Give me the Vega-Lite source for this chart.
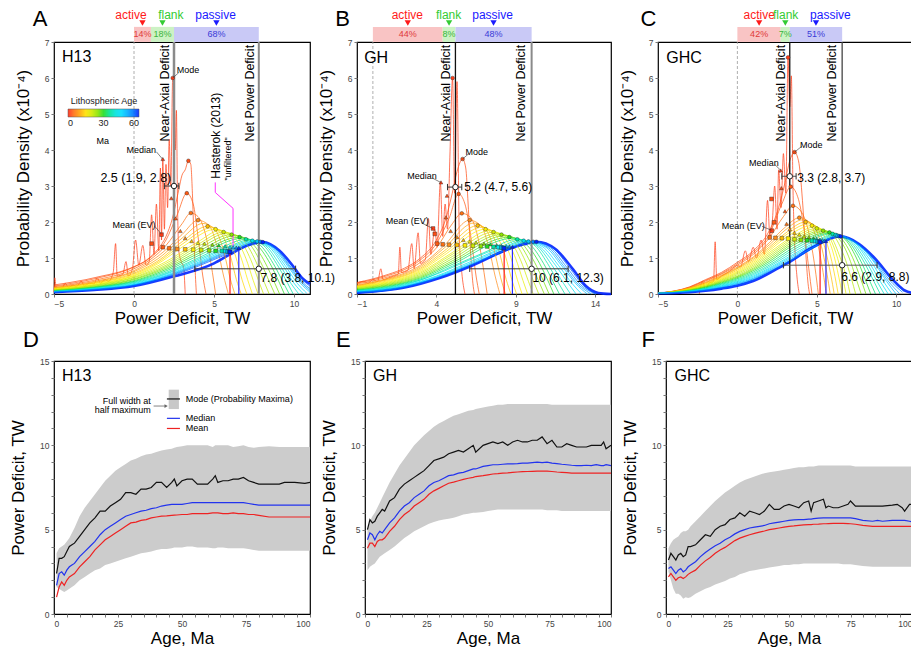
{
"$schema":"https://vega.github.io/schema/vega-lite/v6.json",
"padding":{"left":8,"top":7,"right":2,"bottom":2},
"spacing":0,
"config":{"font":"Liberation Sans","view":{"stroke":"#000","strokeWidth":1.2},
"axis":{"domain":false,"grid":false,"tickSize":3,"tickColor":"#777","labelFontSize":8.5,"labelColor":"#444","labelPadding":2,"labelOverlap":false,"titleFontSize":17,"titleFontWeight":"normal","titleColor":"#000"}},
"datasets":{
"ct":[{"p":"A","cat":"active","x":0,"x2":1.06,"m":0.53,"lx":-0.19,"pct":"14%","y0":7,"y1":7.42,"yp":7.21,"yl":7.76,"yt":7.53},{"p":"A","cat":"flank","x":1.06,"x2":2.5,"m":1.78,"lx":2.3,"pct":"18%","y0":7,"y1":7.42,"yp":7.21,"yl":7.76,"yt":7.53},{"p":"A","cat":"passive","x":2.5,"x2":7.8,"m":5.15,"lx":5.1,"pct":"68%","y0":7,"y1":7.42,"yp":7.21,"yl":7.76,"yt":7.53},
{"p":"B","cat":"active","x":0,"x2":4.4,"m":2.2,"lx":2.17,"pct":"44%","y0":7,"y1":7.42,"yp":7.21,"yl":7.76,"yt":7.53},{"p":"B","cat":"flank","x":4.4,"x2":5.2,"m":4.8,"lx":4.77,"pct":"8%","y0":7,"y1":7.42,"yp":7.21,"yl":7.76,"yt":7.53},{"p":"B","cat":"passive","x":5.2,"x2":10,"m":7.6,"lx":7.54,"pct":"48%","y0":7,"y1":7.42,"yp":7.21,"yl":7.76,"yt":7.53},
{"p":"C","cat":"active","x":0,"x2":2.73,"m":1.37,"lx":1.38,"pct":"42%","y0":7,"y1":7.42,"yp":7.21,"yl":7.76,"yt":7.53},{"p":"C","cat":"flank","x":2.73,"x2":3.3,"m":3.02,"lx":3.04,"pct":"7%","y0":7,"y1":7.42,"yp":7.21,"yl":7.76,"yt":7.53},{"p":"C","cat":"passive","x":3.3,"x2":6.6,"m":4.95,"lx":5.86,"pct":"51%","y0":7,"y1":7.42,"yp":7.21,"yl":7.76,"yt":7.53}],
"vl":[{"p":"A","k":"zero","x":0,"y0":0,"y":7},{"p":"A","k":"near","x":2.5,"y0":0,"y":7},{"p":"A","k":"net","x":7.8,"y0":0,"y":7},{"p":"A","k":"mean","x":6.0,"y0":0,"y":1.2},{"p":"A","k":"median","x":6.55,"y0":0,"y":1.28},
{"p":"B","k":"zero","x":0,"y0":0,"y":7},{"p":"B","k":"near","x":5.2,"y0":0,"y":7},{"p":"B","k":"net","x":10,"y0":0,"y":7},{"p":"B","k":"mean","x":8.27,"y0":0,"y":1.27},{"p":"B","k":"median","x":8.79,"y0":0,"y":1.31},
{"p":"C","k":"zero","x":0,"y0":0,"y":7},{"p":"C","k":"near","x":3.3,"y0":0,"y":7},{"p":"C","k":"net","x":6.6,"y0":0,"y":7},{"p":"C","k":"mean","x":5.21,"y0":0,"y":1.44},{"p":"C","k":"median","x":5.58,"y0":0,"y":1.47}],
"eb":[{"p":"A","x":2.5,"y":3.0,"lo":1.9,"hi":2.8},{"p":"A","x":7.8,"y":0.7,"lo":3.8,"hi":10.1},{"p":"B","x":5.2,"y":2.97,"lo":4.7,"hi":5.6},{"p":"B","x":10,"y":0.7,"lo":6.1,"hi":12.3},{"p":"C","x":3.3,"y":3.27,"lo":2.8,"hi":3.7},{"p":"C","x":6.6,"y":0.8,"lo":2.9,"hi":8.8}],
"ld":[{"p":"A","x":2.42,"y":6.0,"x2":2.8,"y2":6.15},{"p":"A","x":1.4,"y":3.95,"x2":1.78,"y2":3.75},{"p":"A","x":1.3,"y":1.88,"x2":1.72,"y2":1.66},
{"p":"B","x":5.65,"y":3.75,"x2":6.05,"y2":3.9},{"p":"B","x":3.75,"y":3.22,"x2":4.27,"y2":3.1},{"p":"B","x":3.05,"y":1.98,"x2":3.77,"y2":1.82},
{"p":"C","x":3.6,"y":3.94,"x2":4.05,"y2":4.1},{"p":"C","x":2.35,"y":3.6,"x2":2.72,"y2":3.44},{"p":"C","x":1.55,"y":1.88,"x2":2.15,"y2":1.77}],
"hs":[{"o":1,"x":5.08,"y":3.1},{"o":2,"x":5.08,"y":2.82},{"o":3,"x":6.19,"y":2.38},{"o":4,"x":6.19,"y":1.25}],
"lg":[{"k":"band","x":44.8,"x2":48.8,"y":12.15,"y2":13.3},{"k":"mode","x":44.1,"x2":49.2,"y":12.75},{"k":"median","x":44.1,"x2":49.2,"y":11.6},{"k":"mean","x":44.1,"x2":49.2,"y":11.0},{"k":"arrow","x":38.9,"x2":43.6,"y":12.33},{"k":"head","x":43.8,"y":12.33}],
"tx":[{"p":"A","k":"letter","x":-5.875,"y":7.63,"t":"A"},{"p":"A","k":"name","x":-4.5,"y":6.58,"t":"H13"},{"p":"A","k":"rot","x":1.92,"y":6.92,"t":"Near-Axial Deficit"},{"p":"A","k":"rot","x":7.23,"y":6.92,"t":"Net Power Deficit"},{"p":"A","k":"rotL","x":5.15,"y":3.2,"t":"Hasterok (2013)"},{"p":"A","k":"rotS","x":5.88,"y":3.15,"t":"\"unfiltered\""},{"p":"A","k":"valR","x":2.33,"y":3.22,"t":"2.5 (1.9, 2.8)"},{"p":"A","k":"valL","x":7.9,"y":0.45,"t":"7.8 (3.8, 10.1)"},{"p":"A","k":"lab","x":3.38,"y":6.23,"t":"Mode"},{"p":"A","k":"lab","x":0.46,"y":4.0,"t":"Median"},{"p":"A","k":"lab","x":0.0,"y":1.92,"t":"Mean (EV)"},{"p":"A","k":"leg","x":-1.95,"y":4.25,"t":"Ma"},
{"p":"B","k":"letter","x":-1.9,"y":7.63,"t":"B"},{"p":"B","k":"name","x":-0.55,"y":6.55,"t":"GH"},{"p":"B","k":"rot","x":4.6,"y":6.92,"t":"Near-Axial Deficit"},{"p":"B","k":"rot","x":9.35,"y":6.92,"t":"Net Power Deficit"},{"p":"B","k":"valL","x":5.75,"y":2.97,"t":"5.2 (4.7, 5.6)"},{"p":"B","k":"valL","x":10.05,"y":0.44,"t":"10 (6.1, 12.3)"},{"p":"B","k":"lab","x":6.54,"y":3.94,"t":"Mode"},{"p":"B","k":"lab","x":3.1,"y":3.29,"t":"Median"},{"p":"B","k":"lab","x":2.17,"y":2.04,"t":"Mean (EV)"},
{"p":"C","k":"letter","x":-5.6,"y":7.63,"t":"C"},{"p":"C","k":"name","x":-4.48,"y":6.55,"t":"GHC"},{"p":"C","k":"rot","x":2.77,"y":6.92,"t":"Near-Axial Deficit"},{"p":"C","k":"rot","x":5.94,"y":6.92,"t":"Net Power Deficit"},{"p":"C","k":"valL","x":3.77,"y":3.22,"t":"3.3 (2.8, 3.7)"},{"p":"C","k":"valL","x":6.55,"y":0.48,"t":"6.6 (2.9, 8.8)"},{"p":"C","k":"lab","x":4.65,"y":4.15,"t":"Mode"},{"p":"C","k":"lab","x":1.67,"y":3.64,"t":"Median"},{"p":"C","k":"lab","x":0.375,"y":1.9,"t":"Mean (EV)"}],
"mk":[
{"p":"A","a":1,"k":"mode","x":2.42,"y":6.0},{"p":"A","a":2,"k":"mode","x":3.4,"y":3.7},{"p":"A","a":3,"k":"mode","x":3.3,"y":2.8},{"p":"A","a":5,"k":"mode","x":3.55,"y":2.25},{"p":"A","a":8,"k":"mode","x":4.0,"y":2.05},{"p":"A","a":12,"k":"mode","x":4.6,"y":1.88},{"p":"A","a":16,"k":"mode","x":5.1,"y":1.8},{"p":"A","a":20,"k":"mode","x":5.6,"y":1.72},{"p":"A","a":25,"k":"mode","x":6.1,"y":1.65},{"p":"A","a":30,"k":"mode","x":6.6,"y":1.58},{"p":"A","a":36,"k":"mode","x":7.0,"y":1.52},{"p":"A","a":42,"k":"mode","x":7.4,"y":1.48},{"p":"A","a":48,"k":"mode","x":7.7,"y":1.46},{"p":"A","a":54,"k":"mode","x":7.9,"y":1.45},{"p":"A","a":60,"k":"mode","x":8.05,"y":1.44},
{"p":"A","a":1,"k":"median","x":1.8,"y":3.75},{"p":"A","a":2,"k":"median","x":2.33,"y":2.66},{"p":"A","a":3,"k":"median","x":2.6,"y":2.1},{"p":"A","a":5,"k":"median","x":2.9,"y":1.75},{"p":"A","a":8,"k":"median","x":3.2,"y":1.55},{"p":"A","a":12,"k":"median","x":3.6,"y":1.47},{"p":"A","a":16,"k":"median","x":4.0,"y":1.42},{"p":"A","a":20,"k":"median","x":4.4,"y":1.4},{"p":"A","a":25,"k":"median","x":4.9,"y":1.37},{"p":"A","a":30,"k":"median","x":5.3,"y":1.35},{"p":"A","a":36,"k":"median","x":5.7,"y":1.33},{"p":"A","a":42,"k":"median","x":6.0,"y":1.31},{"p":"A","a":48,"k":"median","x":6.2,"y":1.3},{"p":"A","a":54,"k":"median","x":6.4,"y":1.29},{"p":"A","a":60,"k":"median","x":6.55,"y":1.28},
{"p":"A","a":1,"k":"mean","x":1.72,"y":1.65},{"p":"A","a":2,"k":"mean","x":1.1,"y":1.4},{"p":"A","a":3,"k":"mean","x":1.8,"y":1.3},{"p":"A","a":5,"k":"mean","x":2.2,"y":1.27},{"p":"A","a":8,"k":"mean","x":2.7,"y":1.25},{"p":"A","a":12,"k":"mean","x":3.2,"y":1.24},{"p":"A","a":16,"k":"mean","x":3.7,"y":1.23},{"p":"A","a":20,"k":"mean","x":4.2,"y":1.22},{"p":"A","a":25,"k":"mean","x":4.7,"y":1.21},{"p":"A","a":30,"k":"mean","x":5.1,"y":1.2},{"p":"A","a":36,"k":"mean","x":5.5,"y":1.2},{"p":"A","a":42,"k":"mean","x":5.7,"y":1.19},{"p":"A","a":48,"k":"mean","x":5.85,"y":1.18},{"p":"A","a":54,"k":"mean","x":5.95,"y":1.18},{"p":"A","a":60,"k":"mean","x":6.0,"y":1.17},
{"p":"B","a":1,"k":"mode","x":5.02,"y":6.0},{"p":"B","a":2,"k":"mode","x":5.65,"y":3.75},{"p":"B","a":3,"k":"mode","x":5.4,"y":2.78},{"p":"B","a":5,"k":"mode","x":5.6,"y":2.24},{"p":"B","a":8,"k":"mode","x":6.1,"y":2.05},{"p":"B","a":12,"k":"mode","x":6.6,"y":1.9},{"p":"B","a":16,"k":"mode","x":7.1,"y":1.8},{"p":"B","a":20,"k":"mode","x":7.6,"y":1.72},{"p":"B","a":25,"k":"mode","x":8.1,"y":1.65},{"p":"B","a":30,"k":"mode","x":8.6,"y":1.58},{"p":"B","a":36,"k":"mode","x":9.1,"y":1.52},{"p":"B","a":42,"k":"mode","x":9.5,"y":1.48},{"p":"B","a":48,"k":"mode","x":9.8,"y":1.46},{"p":"B","a":54,"k":"mode","x":10.1,"y":1.45},{"p":"B","a":60,"k":"mode","x":10.3,"y":1.45},
{"p":"B","a":1,"k":"median","x":4.29,"y":3.1},{"p":"B","a":2,"k":"median","x":4.67,"y":2.73},{"p":"B","a":3,"k":"median","x":4.6,"y":2.13},{"p":"B","a":5,"k":"median","x":4.9,"y":1.75},{"p":"B","a":8,"k":"median","x":5.3,"y":1.58},{"p":"B","a":12,"k":"median","x":5.7,"y":1.5},{"p":"B","a":16,"k":"median","x":6.1,"y":1.46},{"p":"B","a":20,"k":"median","x":6.5,"y":1.43},{"p":"B","a":25,"k":"median","x":7.0,"y":1.4},{"p":"B","a":30,"k":"median","x":7.4,"y":1.38},{"p":"B","a":36,"k":"median","x":7.8,"y":1.36},{"p":"B","a":42,"k":"median","x":8.1,"y":1.34},{"p":"B","a":48,"k":"median","x":8.4,"y":1.33},{"p":"B","a":54,"k":"median","x":8.6,"y":1.32},{"p":"B","a":60,"k":"median","x":8.79,"y":1.31},
{"p":"B","a":1,"k":"mean","x":3.79,"y":1.82},{"p":"B","a":2,"k":"mean","x":3.9,"y":1.67},{"p":"B","a":3,"k":"mean","x":4.05,"y":1.4},{"p":"B","a":5,"k":"mean","x":4.4,"y":1.38},{"p":"B","a":8,"k":"mean","x":4.8,"y":1.37},{"p":"B","a":12,"k":"mean","x":5.3,"y":1.36},{"p":"B","a":16,"k":"mean","x":5.8,"y":1.35},{"p":"B","a":20,"k":"mean","x":6.3,"y":1.34},{"p":"B","a":25,"k":"mean","x":6.8,"y":1.33},{"p":"B","a":30,"k":"mean","x":7.2,"y":1.32},{"p":"B","a":36,"k":"mean","x":7.6,"y":1.31},{"p":"B","a":42,"k":"mean","x":7.9,"y":1.3},{"p":"B","a":48,"k":"mean","x":8.1,"y":1.29},{"p":"B","a":54,"k":"mean","x":8.2,"y":1.28},{"p":"B","a":60,"k":"mean","x":8.27,"y":1.27},
{"p":"C","a":1,"k":"mode","x":3.19,"y":6.57},{"p":"C","a":2,"k":"mode","x":3.6,"y":3.94},{"p":"C","a":3,"k":"mode","x":3.36,"y":2.98},{"p":"C","a":5,"k":"mode","x":3.5,"y":2.45},{"p":"C","a":8,"k":"mode","x":3.9,"y":2.12},{"p":"C","a":12,"k":"mode","x":4.3,"y":2.0},{"p":"C","a":16,"k":"mode","x":4.7,"y":1.9},{"p":"C","a":20,"k":"mode","x":5.0,"y":1.82},{"p":"C","a":25,"k":"mode","x":5.4,"y":1.76},{"p":"C","a":30,"k":"mode","x":5.8,"y":1.71},{"p":"C","a":36,"k":"mode","x":6.0,"y":1.67},{"p":"C","a":42,"k":"mode","x":6.2,"y":1.64},{"p":"C","a":48,"k":"mode","x":6.3,"y":1.62},{"p":"C","a":54,"k":"mode","x":6.4,"y":1.61},{"p":"C","a":60,"k":"mode","x":6.5,"y":1.6},
{"p":"C","a":1,"k":"median","x":2.73,"y":3.43},{"p":"C","a":2,"k":"median","x":2.77,"y":2.94},{"p":"C","a":3,"k":"median","x":3.0,"y":2.3},{"p":"C","a":5,"k":"median","x":3.1,"y":1.95},{"p":"C","a":8,"k":"median","x":3.3,"y":1.8},{"p":"C","a":12,"k":"median","x":3.6,"y":1.7},{"p":"C","a":16,"k":"median","x":3.9,"y":1.65},{"p":"C","a":20,"k":"median","x":4.2,"y":1.6},{"p":"C","a":25,"k":"median","x":4.5,"y":1.57},{"p":"C","a":30,"k":"median","x":4.8,"y":1.55},{"p":"C","a":36,"k":"median","x":5.0,"y":1.53},{"p":"C","a":42,"k":"median","x":5.2,"y":1.51},{"p":"C","a":48,"k":"median","x":5.35,"y":1.5},{"p":"C","a":54,"k":"median","x":5.47,"y":1.48},{"p":"C","a":60,"k":"median","x":5.58,"y":1.47},
{"p":"C","a":1,"k":"mean","x":2.17,"y":1.76},{"p":"C","a":2,"k":"mean","x":2.15,"y":2.64},{"p":"C","a":3,"k":"mean","x":2.31,"y":1.99},{"p":"C","a":5,"k":"mean","x":2.04,"y":1.57},{"p":"C","a":8,"k":"mean","x":2.4,"y":1.56},{"p":"C","a":12,"k":"mean","x":2.8,"y":1.55},{"p":"C","a":16,"k":"mean","x":3.2,"y":1.54},{"p":"C","a":20,"k":"mean","x":3.6,"y":1.52},{"p":"C","a":25,"k":"mean","x":4.0,"y":1.5},{"p":"C","a":30,"k":"mean","x":4.4,"y":1.49},{"p":"C","a":36,"k":"mean","x":4.7,"y":1.48},{"p":"C","a":42,"k":"mean","x":4.9,"y":1.47},{"p":"C","a":48,"k":"mean","x":5.05,"y":1.46},{"p":"C","a":54,"k":"mean","x":5.15,"y":1.45},{"p":"C","a":60,"k":"mean","x":5.21,"y":1.44}],
"cv":[
{"p":"A","a":1,"x":-5,"y":0.05},{"p":"A","a":1,"x":-4.95,"y":0.45},{"p":"A","a":1,"x":-4.85,"y":0.12},{"p":"A","a":1,"x":-4.5,"y":0.15},{"p":"A","a":1,"x":-4.3,"y":0.3},{"p":"A","a":1,"x":-4.1,"y":0.18},{"p":"A","a":1,"x":-3.8,"y":0.25},{"p":"A","a":1,"x":-3.6,"y":0.2},{"p":"A","a":1,"x":-3.3,"y":0.35},{"p":"A","a":1,"x":-3.1,"y":0.22},{"p":"A","a":1,"x":-2.8,"y":0.3},{"p":"A","a":1,"x":-2.5,"y":0.28},{"p":"A","a":1,"x":-2.3,"y":0.45},{"p":"A","a":1,"x":-2.1,"y":0.3},{"p":"A","a":1,"x":-1.8,"y":0.4},{"p":"A","a":1,"x":-1.6,"y":0.35},{"p":"A","a":1,"x":-1.3,"y":0.6},{"p":"A","a":1,"x":-1.15,"y":1.4},{"p":"A","a":1,"x":-1.05,"y":0.5},{"p":"A","a":1,"x":-0.7,"y":0.55},{"p":"A","a":1,"x":-0.5,"y":0.9},{"p":"A","a":1,"x":-0.35,"y":0.5},{"p":"A","a":1,"x":-0.1,"y":0.7},{"p":"A","a":1,"x":0.1,"y":1.5},{"p":"A","a":1,"x":0.3,"y":0.8},{"p":"A","a":1,"x":0.55,"y":1.35},{"p":"A","a":1,"x":0.75,"y":0.8},{"p":"A","a":1,"x":0.95,"y":0.9},{"p":"A","a":1,"x":1.1,"y":2.2},{"p":"A","a":1,"x":1.25,"y":1.1},{"p":"A","a":1,"x":1.4,"y":2.5},{"p":"A","a":1,"x":1.55,"y":1.2},{"p":"A","a":1,"x":1.65,"y":3.5},{"p":"A","a":1,"x":1.72,"y":1.5},{"p":"A","a":1,"x":1.8,"y":3.75},{"p":"A","a":1,"x":1.9,"y":1.8},{"p":"A","a":1,"x":2,"y":3.6},{"p":"A","a":1,"x":2.1,"y":2.4},{"p":"A","a":1,"x":2.2,"y":4.3},{"p":"A","a":1,"x":2.3,"y":3},{"p":"A","a":1,"x":2.42,"y":6},{"p":"A","a":1,"x":2.5,"y":5.9},{"p":"A","a":1,"x":2.58,"y":4},{"p":"A","a":1,"x":2.65,"y":5.1},{"p":"A","a":1,"x":2.72,"y":2.5},{"p":"A","a":1,"x":2.8,"y":1.2},{"p":"A","a":1,"x":2.95,"y":0.9},{"p":"A","a":1,"x":3.1,"y":0.75},{"p":"A","a":1,"x":3.2,"y":0},
{"p":"A","a":2,"x":-5,"y":0.25},{"p":"A","a":2,"x":-4,"y":0.32},{"p":"A","a":2,"x":-3,"y":0.4},{"p":"A","a":2,"x":-2,"y":0.5},{"p":"A","a":2,"x":-1,"y":0.6},{"p":"A","a":2,"x":0,"y":0.76},{"p":"A","a":2,"x":0.8,"y":0.95},{"p":"A","a":2,"x":1.5,"y":1.25},{"p":"A","a":2,"x":2,"y":1.6},{"p":"A","a":2,"x":2.4,"y":2.1},{"p":"A","a":2,"x":2.8,"y":2.9},{"p":"A","a":2,"x":3,"y":3.3},{"p":"A","a":2,"x":3.2,"y":3.45},{"p":"A","a":2,"x":3.4,"y":3.7},{"p":"A","a":2,"x":3.55,"y":3.6},{"p":"A","a":2,"x":3.65,"y":2.8},{"p":"A","a":2,"x":3.75,"y":1.5},{"p":"A","a":2,"x":3.85,"y":0.4},{"p":"A","a":2,"x":3.9,"y":0},
{"p":"A","a":3,"x":-5,"y":0.22},{"p":"A","a":3,"x":-2.5,"y":0.42},{"p":"A","a":3,"x":0,"y":0.75},{"p":"A","a":3,"x":1,"y":1.0},{"p":"A","a":3,"x":2,"y":1.5},{"p":"A","a":3,"x":2.7,"y":2.2},{"p":"A","a":3,"x":3.3,"y":2.8},{"p":"A","a":3,"x":3.7,"y":2.5},{"p":"A","a":3,"x":4.0,"y":1.6},{"p":"A","a":3,"x":4.3,"y":0.5},{"p":"A","a":3,"x":4.5,"y":0},
{"p":"A","a":5,"x":-5,"y":0.2},{"p":"A","a":5,"x":-2.5,"y":0.38},{"p":"A","a":5,"x":0,"y":0.7},{"p":"A","a":5,"x":1,"y":0.95},{"p":"A","a":5,"x":2,"y":1.35},{"p":"A","a":5,"x":3,"y":1.95},{"p":"A","a":5,"x":3.55,"y":2.25},{"p":"A","a":5,"x":4.0,"y":2.15},{"p":"A","a":5,"x":4.5,"y":1.6},{"p":"A","a":5,"x":4.9,"y":0.6},{"p":"A","a":5,"x":5.1,"y":0},
{"p":"A","a":8,"x":-5,"y":0.18},{"p":"A","a":8,"x":-2.5,"y":0.35},{"p":"A","a":8,"x":0,"y":0.65},{"p":"A","a":8,"x":1.5,"y":1.05},{"p":"A","a":8,"x":3,"y":1.65},{"p":"A","a":8,"x":4,"y":2.05},{"p":"A","a":8,"x":4.7,"y":1.9},{"p":"A","a":8,"x":5.2,"y":1.3},{"p":"A","a":8,"x":5.6,"y":0.5},{"p":"A","a":8,"x":5.9,"y":0},
{"p":"A","a":12,"x":-5,"y":0.16},{"p":"A","a":12,"x":-2.5,"y":0.31},{"p":"A","a":12,"x":0,"y":0.58},{"p":"A","a":12,"x":1.5,"y":0.92},{"p":"A","a":12,"x":3,"y":1.45},{"p":"A","a":12,"x":4.6,"y":1.88},{"p":"A","a":12,"x":5.4,"y":1.7},{"p":"A","a":12,"x":6,"y":1.1},{"p":"A","a":12,"x":6.4,"y":0.4},{"p":"A","a":12,"x":6.7,"y":0},
{"p":"A","a":16,"x":-5,"y":0.14},{"p":"A","a":16,"x":-2.5,"y":0.28},{"p":"A","a":16,"x":0,"y":0.52},{"p":"A","a":16,"x":1.5,"y":0.84},{"p":"A","a":16,"x":3,"y":1.3},{"p":"A","a":16,"x":5.1,"y":1.8},{"p":"A","a":16,"x":6,"y":1.6},{"p":"A","a":16,"x":6.7,"y":1.0},{"p":"A","a":16,"x":7.1,"y":0.4},{"p":"A","a":16,"x":7.4,"y":0},
{"p":"A","a":20,"x":-5,"y":0.12},{"p":"A","a":20,"x":-2.5,"y":0.25},{"p":"A","a":20,"x":0,"y":0.47},{"p":"A","a":20,"x":2,"y":0.85},{"p":"A","a":20,"x":4,"y":1.38},{"p":"A","a":20,"x":5.6,"y":1.72},{"p":"A","a":20,"x":6.6,"y":1.5},{"p":"A","a":20,"x":7.3,"y":0.95},{"p":"A","a":20,"x":7.8,"y":0.35},{"p":"A","a":20,"x":8.1,"y":0},
{"p":"A","a":25,"x":-5,"y":0.11},{"p":"A","a":25,"x":-2.5,"y":0.22},{"p":"A","a":25,"x":0,"y":0.42},{"p":"A","a":25,"x":2,"y":0.76},{"p":"A","a":25,"x":4,"y":1.25},{"p":"A","a":25,"x":6.1,"y":1.65},{"p":"A","a":25,"x":7.1,"y":1.45},{"p":"A","a":25,"x":7.9,"y":0.9},{"p":"A","a":25,"x":8.5,"y":0.3},{"p":"A","a":25,"x":8.8,"y":0},
{"p":"A","a":30,"x":-5,"y":0.09},{"p":"A","a":30,"x":-2.5,"y":0.19},{"p":"A","a":30,"x":0,"y":0.37},{"p":"A","a":30,"x":2,"y":0.68},{"p":"A","a":30,"x":4,"y":1.12},{"p":"A","a":30,"x":6.6,"y":1.58},{"p":"A","a":30,"x":7.6,"y":1.4},{"p":"A","a":30,"x":8.5,"y":0.85},{"p":"A","a":30,"x":9.1,"y":0.3},{"p":"A","a":30,"x":9.4,"y":0},
{"p":"A","a":36,"x":-5,"y":0.08},{"p":"A","a":36,"x":-2.5,"y":0.17},{"p":"A","a":36,"x":0,"y":0.33},{"p":"A","a":36,"x":2,"y":0.6},{"p":"A","a":36,"x":4,"y":1.0},{"p":"A","a":36,"x":5.5,"y":1.3},{"p":"A","a":36,"x":7,"y":1.52},{"p":"A","a":36,"x":8,"y":1.38},{"p":"A","a":36,"x":8.9,"y":0.85},{"p":"A","a":36,"x":9.6,"y":0.3},{"p":"A","a":36,"x":9.95,"y":0},
{"p":"A","a":42,"x":-5,"y":0.07},{"p":"A","a":42,"x":-2.5,"y":0.15},{"p":"A","a":42,"x":0,"y":0.29},{"p":"A","a":42,"x":2,"y":0.55},{"p":"A","a":42,"x":4,"y":0.92},{"p":"A","a":42,"x":6,"y":1.3},{"p":"A","a":42,"x":7.4,"y":1.48},{"p":"A","a":42,"x":8.4,"y":1.32},{"p":"A","a":42,"x":9.3,"y":0.8},{"p":"A","a":42,"x":10,"y":0.3},{"p":"A","a":42,"x":10.6,"y":0},
{"p":"A","a":48,"x":-5,"y":0.06},{"p":"A","a":48,"x":-2.5,"y":0.13},{"p":"A","a":48,"x":0,"y":0.26},{"p":"A","a":48,"x":2,"y":0.5},{"p":"A","a":48,"x":4,"y":0.85},{"p":"A","a":48,"x":6,"y":1.22},{"p":"A","a":48,"x":7.7,"y":1.46},{"p":"A","a":48,"x":8.7,"y":1.28},{"p":"A","a":48,"x":9.6,"y":0.78},{"p":"A","a":48,"x":10.4,"y":0.3},{"p":"A","a":48,"x":11,"y":0.05},
{"p":"A","a":54,"x":-5,"y":0.055},{"p":"A","a":54,"x":-2.5,"y":0.12},{"p":"A","a":54,"x":0,"y":0.24},{"p":"A","a":54,"x":2,"y":0.47},{"p":"A","a":54,"x":4,"y":0.8},{"p":"A","a":54,"x":6,"y":1.17},{"p":"A","a":54,"x":7.9,"y":1.45},{"p":"A","a":54,"x":8.9,"y":1.25},{"p":"A","a":54,"x":9.8,"y":0.75},{"p":"A","a":54,"x":10.6,"y":0.3},{"p":"A","a":54,"x":11,"y":0.15},
{"p":"A","a":60,"x":-5,"y":0.05},{"p":"A","a":60,"x":-2.5,"y":0.11},{"p":"A","a":60,"x":0,"y":0.22},{"p":"A","a":60,"x":2.5,"y":0.49},{"p":"A","a":60,"x":5,"y":0.85},{"p":"A","a":60,"x":6,"y":1.1},{"p":"A","a":60,"x":7,"y":1.33},{"p":"A","a":60,"x":8.05,"y":1.44},{"p":"A","a":60,"x":9.1,"y":1.2},{"p":"A","a":60,"x":9.9,"y":0.8},{"p":"A","a":60,"x":10.5,"y":0.45},{"p":"A","a":60,"x":11,"y":0.28},
{"p":"A","a":10,"x":-5,"y":0.17},{"p":"A","a":10,"x":-2.5,"y":0.33},{"p":"A","a":10,"x":0,"y":0.62},{"p":"A","a":10,"x":1.5,"y":0.98},{"p":"A","a":10,"x":3,"y":1.55},{"p":"A","a":10,"x":4.3,"y":1.96},{"p":"A","a":10,"x":5.05,"y":1.8},{"p":"A","a":10,"x":5.6,"y":1.2},{"p":"A","a":10,"x":6.0,"y":0.45},{"p":"A","a":10,"x":6.3,"y":0},
{"p":"A","a":14,"x":-5,"y":0.15},{"p":"A","a":14,"x":-2.5,"y":0.3},{"p":"A","a":14,"x":0,"y":0.55},{"p":"A","a":14,"x":1.5,"y":0.88},{"p":"A","a":14,"x":3,"y":1.38},{"p":"A","a":14,"x":4.85,"y":1.84},{"p":"A","a":14,"x":5.7,"y":1.65},{"p":"A","a":14,"x":6.35,"y":1.05},{"p":"A","a":14,"x":6.75,"y":0.4},{"p":"A","a":14,"x":7.05,"y":0},
{"p":"A","a":18,"x":-5,"y":0.13},{"p":"A","a":18,"x":-2.5,"y":0.26},{"p":"A","a":18,"x":0,"y":0.5},{"p":"A","a":18,"x":2,"y":0.9},{"p":"A","a":18,"x":4,"y":1.45},{"p":"A","a":18,"x":5.35,"y":1.76},{"p":"A","a":18,"x":6.3,"y":1.55},{"p":"A","a":18,"x":7.0,"y":0.98},{"p":"A","a":18,"x":7.45,"y":0.38},{"p":"A","a":18,"x":7.75,"y":0},
{"p":"A","a":22,"x":-5,"y":0.115},{"p":"A","a":22,"x":-2.5,"y":0.235},{"p":"A","a":22,"x":0,"y":0.45},{"p":"A","a":22,"x":2,"y":0.8},{"p":"A","a":22,"x":4,"y":1.32},{"p":"A","a":22,"x":5.85,"y":1.69},{"p":"A","a":22,"x":6.85,"y":1.48},{"p":"A","a":22,"x":7.6,"y":0.92},{"p":"A","a":22,"x":8.15,"y":0.32},{"p":"A","a":22,"x":8.45,"y":0},
{"p":"A","a":27,"x":-5,"y":0.1},{"p":"A","a":27,"x":-2.5,"y":0.2},{"p":"A","a":27,"x":0,"y":0.4},{"p":"A","a":27,"x":2,"y":0.72},{"p":"A","a":27,"x":4,"y":1.18},{"p":"A","a":27,"x":6.35,"y":1.62},{"p":"A","a":27,"x":7.35,"y":1.42},{"p":"A","a":27,"x":8.2,"y":0.87},{"p":"A","a":27,"x":8.8,"y":0.3},{"p":"A","a":27,"x":9.1,"y":0},
{"p":"A","a":33,"x":-5,"y":0.085},{"p":"A","a":33,"x":-2.5,"y":0.18},{"p":"A","a":33,"x":0,"y":0.35},{"p":"A","a":33,"x":2,"y":0.64},{"p":"A","a":33,"x":4,"y":1.06},{"p":"A","a":33,"x":6.8,"y":1.55},{"p":"A","a":33,"x":7.8,"y":1.39},{"p":"A","a":33,"x":8.7,"y":0.85},{"p":"A","a":33,"x":9.35,"y":0.3},{"p":"A","a":33,"x":9.7,"y":0},
{"p":"A","a":39,"x":-5,"y":0.075},{"p":"A","a":39,"x":-2.5,"y":0.16},{"p":"A","a":39,"x":0,"y":0.31},{"p":"A","a":39,"x":2,"y":0.57},{"p":"A","a":39,"x":4,"y":0.96},{"p":"A","a":39,"x":6,"y":1.33},{"p":"A","a":39,"x":7.2,"y":1.5},{"p":"A","a":39,"x":8.2,"y":1.35},{"p":"A","a":39,"x":9.1,"y":0.82},{"p":"A","a":39,"x":9.8,"y":0.3},{"p":"A","a":39,"x":10.3,"y":0},
{"p":"A","a":45,"x":-5,"y":0.065},{"p":"A","a":45,"x":-2.5,"y":0.14},{"p":"A","a":45,"x":0,"y":0.27},{"p":"A","a":45,"x":2,"y":0.52},{"p":"A","a":45,"x":4,"y":0.88},{"p":"A","a":45,"x":6,"y":1.26},{"p":"A","a":45,"x":7.55,"y":1.47},{"p":"A","a":45,"x":8.55,"y":1.3},{"p":"A","a":45,"x":9.45,"y":0.79},{"p":"A","a":45,"x":10.2,"y":0.3},{"p":"A","a":45,"x":10.8,"y":0.02},
{"p":"A","a":51,"x":-5,"y":0.058},{"p":"A","a":51,"x":-2.5,"y":0.125},{"p":"A","a":51,"x":0,"y":0.25},{"p":"A","a":51,"x":2,"y":0.485},{"p":"A","a":51,"x":4,"y":0.82},{"p":"A","a":51,"x":6,"y":1.2},{"p":"A","a":51,"x":7.8,"y":1.455},{"p":"A","a":51,"x":8.8,"y":1.27},{"p":"A","a":51,"x":9.7,"y":0.77},{"p":"A","a":51,"x":10.5,"y":0.3},{"p":"A","a":51,"x":11,"y":0.1},
{"p":"A","a":57,"x":-5,"y":0.052},{"p":"A","a":57,"x":-2.5,"y":0.115},{"p":"A","a":57,"x":0,"y":0.23},{"p":"A","a":57,"x":2,"y":0.45},{"p":"A","a":57,"x":4,"y":0.77},{"p":"A","a":57,"x":6,"y":1.14},{"p":"A","a":57,"x":7.98,"y":1.445},{"p":"A","a":57,"x":9.0,"y":1.23},{"p":"A","a":57,"x":9.85,"y":0.78},{"p":"A","a":57,"x":10.55,"y":0.38},{"p":"A","a":57,"x":11,"y":0.22},
{"p":"B","a":1,"x":-1,"y":0.3},{"p":"B","a":1,"x":-0.6,"y":0.35},{"p":"B","a":1,"x":-0.3,"y":0.3},{"p":"B","a":1,"x":0,"y":0.4},{"p":"B","a":1,"x":0.3,"y":0.35},{"p":"B","a":1,"x":0.5,"y":0.7},{"p":"B","a":1,"x":0.65,"y":0.4},{"p":"B","a":1,"x":1,"y":0.45},{"p":"B","a":1,"x":1.3,"y":0.5},{"p":"B","a":1,"x":1.6,"y":0.55},{"p":"B","a":1,"x":1.7,"y":1.3},{"p":"B","a":1,"x":1.8,"y":0.6},{"p":"B","a":1,"x":2.2,"y":0.65},{"p":"B","a":1,"x":2.45,"y":1.4},{"p":"B","a":1,"x":2.6,"y":0.7},{"p":"B","a":1,"x":2.85,"y":1.7},{"p":"B","a":1,"x":3,"y":0.85},{"p":"B","a":1,"x":3.3,"y":0.95},{"p":"B","a":1,"x":3.5,"y":2.1},{"p":"B","a":1,"x":3.65,"y":1.1},{"p":"B","a":1,"x":3.9,"y":1.8},{"p":"B","a":1,"x":4.05,"y":1.3},{"p":"B","a":1,"x":4.25,"y":3.1},{"p":"B","a":1,"x":4.4,"y":1.6},{"p":"B","a":1,"x":4.55,"y":2.5},{"p":"B","a":1,"x":4.7,"y":1.8},{"p":"B","a":1,"x":4.85,"y":3.8},{"p":"B","a":1,"x":5.02,"y":6.0},{"p":"B","a":1,"x":5.15,"y":2.8},{"p":"B","a":1,"x":5.3,"y":5.9},{"p":"B","a":1,"x":5.45,"y":1.5},{"p":"B","a":1,"x":5.6,"y":0.6},{"p":"B","a":1,"x":5.8,"y":0},
{"p":"B","a":2,"x":-1,"y":0.32},{"p":"B","a":2,"x":0,"y":0.42},{"p":"B","a":2,"x":1,"y":0.55},{"p":"B","a":2,"x":2,"y":0.72},{"p":"B","a":2,"x":3,"y":1.0},{"p":"B","a":2,"x":4,"y":1.5},{"p":"B","a":2,"x":4.6,"y":2.1},{"p":"B","a":2,"x":5,"y":2.8},{"p":"B","a":2,"x":5.3,"y":3.4},{"p":"B","a":2,"x":5.65,"y":3.75},{"p":"B","a":2,"x":5.85,"y":3.5},{"p":"B","a":2,"x":6,"y":2.5},{"p":"B","a":2,"x":6.15,"y":1.2},{"p":"B","a":2,"x":6.3,"y":0.3},{"p":"B","a":2,"x":6.4,"y":0},
{"p":"B","a":3,"x":-1,"y":0.3},{"p":"B","a":3,"x":1,"y":0.52},{"p":"B","a":3,"x":2,"y":0.68},{"p":"B","a":3,"x":3,"y":0.95},{"p":"B","a":3,"x":4,"y":1.4},{"p":"B","a":3,"x":4.8,"y":2.1},{"p":"B","a":3,"x":5.4,"y":2.78},{"p":"B","a":3,"x":5.8,"y":2.5},{"p":"B","a":3,"x":6.2,"y":1.5},{"p":"B","a":3,"x":6.5,"y":0.5},{"p":"B","a":3,"x":6.7,"y":0},
{"p":"B","a":5,"x":-1,"y":0.28},{"p":"B","a":5,"x":1,"y":0.48},{"p":"B","a":5,"x":2,"y":0.63},{"p":"B","a":5,"x":3,"y":0.88},{"p":"B","a":5,"x":4,"y":1.28},{"p":"B","a":5,"x":5,"y":1.95},{"p":"B","a":5,"x":5.6,"y":2.24},{"p":"B","a":5,"x":6.1,"y":2.15},{"p":"B","a":5,"x":6.6,"y":1.6},{"p":"B","a":5,"x":7,"y":0.6},{"p":"B","a":5,"x":7.2,"y":0},
{"p":"B","a":8,"x":-1,"y":0.25},{"p":"B","a":8,"x":1,"y":0.44},{"p":"B","a":8,"x":2,"y":0.58},{"p":"B","a":8,"x":3,"y":0.8},{"p":"B","a":8,"x":4.5,"y":1.35},{"p":"B","a":8,"x":6.1,"y":2.05},{"p":"B","a":8,"x":6.8,"y":1.9},{"p":"B","a":8,"x":7.3,"y":1.3},{"p":"B","a":8,"x":7.7,"y":0.5},{"p":"B","a":8,"x":8,"y":0},
{"p":"B","a":12,"x":-1,"y":0.22},{"p":"B","a":12,"x":1,"y":0.4},{"p":"B","a":12,"x":2,"y":0.52},{"p":"B","a":12,"x":3,"y":0.72},{"p":"B","a":12,"x":4.5,"y":1.2},{"p":"B","a":12,"x":6.6,"y":1.9},{"p":"B","a":12,"x":7.4,"y":1.72},{"p":"B","a":12,"x":8,"y":1.1},{"p":"B","a":12,"x":8.4,"y":0.4},{"p":"B","a":12,"x":8.7,"y":0},
{"p":"B","a":16,"x":-1,"y":0.2},{"p":"B","a":16,"x":1,"y":0.35},{"p":"B","a":16,"x":2,"y":0.47},{"p":"B","a":16,"x":3,"y":0.65},{"p":"B","a":16,"x":4.5,"y":1.08},{"p":"B","a":16,"x":7.1,"y":1.8},{"p":"B","a":16,"x":8,"y":1.6},{"p":"B","a":16,"x":8.7,"y":1.0},{"p":"B","a":16,"x":9.1,"y":0.4},{"p":"B","a":16,"x":9.4,"y":0},
{"p":"B","a":20,"x":-1,"y":0.18},{"p":"B","a":20,"x":1,"y":0.31},{"p":"B","a":20,"x":2,"y":0.42},{"p":"B","a":20,"x":3,"y":0.58},{"p":"B","a":20,"x":5,"y":1.1},{"p":"B","a":20,"x":7.6,"y":1.72},{"p":"B","a":20,"x":8.6,"y":1.5},{"p":"B","a":20,"x":9.3,"y":0.95},{"p":"B","a":20,"x":9.8,"y":0.35},{"p":"B","a":20,"x":10.1,"y":0},
{"p":"B","a":25,"x":-1,"y":0.15},{"p":"B","a":25,"x":1,"y":0.27},{"p":"B","a":25,"x":2,"y":0.37},{"p":"B","a":25,"x":3,"y":0.51},{"p":"B","a":25,"x":5,"y":0.98},{"p":"B","a":25,"x":8.1,"y":1.65},{"p":"B","a":25,"x":9.1,"y":1.45},{"p":"B","a":25,"x":9.9,"y":0.9},{"p":"B","a":25,"x":10.5,"y":0.3},{"p":"B","a":25,"x":10.8,"y":0},
{"p":"B","a":30,"x":-1,"y":0.12},{"p":"B","a":30,"x":1,"y":0.23},{"p":"B","a":30,"x":2,"y":0.32},{"p":"B","a":30,"x":3,"y":0.45},{"p":"B","a":30,"x":5,"y":0.87},{"p":"B","a":30,"x":8.6,"y":1.58},{"p":"B","a":30,"x":9.6,"y":1.4},{"p":"B","a":30,"x":10.5,"y":0.85},{"p":"B","a":30,"x":11.1,"y":0.3},{"p":"B","a":30,"x":11.4,"y":0},
{"p":"B","a":36,"x":-1,"y":0.1},{"p":"B","a":36,"x":1,"y":0.19},{"p":"B","a":36,"x":2,"y":0.28},{"p":"B","a":36,"x":3,"y":0.39},{"p":"B","a":36,"x":5,"y":0.77},{"p":"B","a":36,"x":7,"y":1.15},{"p":"B","a":36,"x":9.1,"y":1.52},{"p":"B","a":36,"x":10.1,"y":1.38},{"p":"B","a":36,"x":11,"y":0.85},{"p":"B","a":36,"x":11.7,"y":0.3},{"p":"B","a":36,"x":12.1,"y":0},
{"p":"B","a":42,"x":-1,"y":0.08},{"p":"B","a":42,"x":1,"y":0.16},{"p":"B","a":42,"x":2,"y":0.24},{"p":"B","a":42,"x":4,"y":0.5},{"p":"B","a":42,"x":6,"y":0.87},{"p":"B","a":42,"x":8,"y":1.25},{"p":"B","a":42,"x":9.5,"y":1.48},{"p":"B","a":42,"x":10.5,"y":1.32},{"p":"B","a":42,"x":11.5,"y":0.8},{"p":"B","a":42,"x":12.3,"y":0.3},{"p":"B","a":42,"x":12.8,"y":0},
{"p":"B","a":48,"x":-1,"y":0.06},{"p":"B","a":48,"x":1,"y":0.13},{"p":"B","a":48,"x":2,"y":0.21},{"p":"B","a":48,"x":4,"y":0.46},{"p":"B","a":48,"x":6,"y":0.8},{"p":"B","a":48,"x":8,"y":1.18},{"p":"B","a":48,"x":9.8,"y":1.46},{"p":"B","a":48,"x":10.9,"y":1.3},{"p":"B","a":48,"x":11.9,"y":0.78},{"p":"B","a":48,"x":12.8,"y":0.28},{"p":"B","a":48,"x":13.5,"y":0},
{"p":"B","a":54,"x":-1,"y":0.045},{"p":"B","a":54,"x":1,"y":0.11},{"p":"B","a":54,"x":2,"y":0.19},{"p":"B","a":54,"x":4,"y":0.43},{"p":"B","a":54,"x":6,"y":0.76},{"p":"B","a":54,"x":8,"y":1.13},{"p":"B","a":54,"x":10.1,"y":1.45},{"p":"B","a":54,"x":11.2,"y":1.28},{"p":"B","a":54,"x":12.2,"y":0.75},{"p":"B","a":54,"x":13.1,"y":0.25},{"p":"B","a":54,"x":14,"y":0},
{"p":"B","a":60,"x":-1,"y":0.03},{"p":"B","a":60,"x":0.5,"y":0.09},{"p":"B","a":60,"x":2,"y":0.18},{"p":"B","a":60,"x":4.25,"y":0.45},{"p":"B","a":60,"x":6.3,"y":0.8},{"p":"B","a":60,"x":8.4,"y":1.22},{"p":"B","a":60,"x":9.5,"y":1.38},{"p":"B","a":60,"x":10.3,"y":1.45},{"p":"B","a":60,"x":11.5,"y":1.25},{"p":"B","a":60,"x":12.6,"y":0.69},{"p":"B","a":60,"x":13.4,"y":0.23},{"p":"B","a":60,"x":14.2,"y":0.03},{"p":"B","a":60,"x":15,"y":0},
{"p":"B","a":10,"x":-1,"y":0.235},{"p":"B","a":10,"x":1,"y":0.42},{"p":"B","a":10,"x":2,"y":0.55},{"p":"B","a":10,"x":3,"y":0.76},{"p":"B","a":10,"x":4.5,"y":1.28},{"p":"B","a":10,"x":6.35,"y":1.97},{"p":"B","a":10,"x":7.1,"y":1.8},{"p":"B","a":10,"x":7.65,"y":1.2},{"p":"B","a":10,"x":8.05,"y":0.45},{"p":"B","a":10,"x":8.35,"y":0},
{"p":"B","a":14,"x":-1,"y":0.21},{"p":"B","a":14,"x":1,"y":0.375},{"p":"B","a":14,"x":2,"y":0.5},{"p":"B","a":14,"x":3,"y":0.685},{"p":"B","a":14,"x":4.5,"y":1.14},{"p":"B","a":14,"x":6.85,"y":1.85},{"p":"B","a":14,"x":7.7,"y":1.66},{"p":"B","a":14,"x":8.35,"y":1.05},{"p":"B","a":14,"x":8.75,"y":0.4},{"p":"B","a":14,"x":9.05,"y":0},
{"p":"B","a":18,"x":-1,"y":0.19},{"p":"B","a":18,"x":1,"y":0.33},{"p":"B","a":18,"x":2,"y":0.445},{"p":"B","a":18,"x":3,"y":0.615},{"p":"B","a":18,"x":5,"y":1.15},{"p":"B","a":18,"x":7.35,"y":1.76},{"p":"B","a":18,"x":8.3,"y":1.55},{"p":"B","a":18,"x":9.0,"y":0.98},{"p":"B","a":18,"x":9.45,"y":0.38},{"p":"B","a":18,"x":9.75,"y":0},
{"p":"B","a":22,"x":-1,"y":0.165},{"p":"B","a":22,"x":1,"y":0.29},{"p":"B","a":22,"x":2,"y":0.395},{"p":"B","a":22,"x":3,"y":0.545},{"p":"B","a":22,"x":5,"y":1.04},{"p":"B","a":22,"x":7.85,"y":1.68},{"p":"B","a":22,"x":8.85,"y":1.48},{"p":"B","a":22,"x":9.6,"y":0.92},{"p":"B","a":22,"x":10.15,"y":0.32},{"p":"B","a":22,"x":10.45,"y":0},
{"p":"B","a":27,"x":-1,"y":0.135},{"p":"B","a":27,"x":1,"y":0.25},{"p":"B","a":27,"x":2,"y":0.345},{"p":"B","a":27,"x":3,"y":0.48},{"p":"B","a":27,"x":5,"y":0.92},{"p":"B","a":27,"x":8.35,"y":1.62},{"p":"B","a":27,"x":9.35,"y":1.42},{"p":"B","a":27,"x":10.2,"y":0.87},{"p":"B","a":27,"x":10.8,"y":0.3},{"p":"B","a":27,"x":11.1,"y":0},
{"p":"B","a":33,"x":-1,"y":0.11},{"p":"B","a":33,"x":1,"y":0.21},{"p":"B","a":33,"x":2,"y":0.3},{"p":"B","a":33,"x":3,"y":0.42},{"p":"B","a":33,"x":5,"y":0.82},{"p":"B","a":33,"x":8.85,"y":1.55},{"p":"B","a":33,"x":9.85,"y":1.39},{"p":"B","a":33,"x":10.75,"y":0.85},{"p":"B","a":33,"x":11.4,"y":0.3},{"p":"B","a":33,"x":11.75,"y":0},
{"p":"B","a":39,"x":-1,"y":0.09},{"p":"B","a":39,"x":1,"y":0.175},{"p":"B","a":39,"x":2,"y":0.26},{"p":"B","a":39,"x":4,"y":0.55},{"p":"B","a":39,"x":6,"y":0.93},{"p":"B","a":39,"x":8,"y":1.3},{"p":"B","a":39,"x":9.3,"y":1.5},{"p":"B","a":39,"x":10.3,"y":1.35},{"p":"B","a":39,"x":11.25,"y":0.82},{"p":"B","a":39,"x":12.0,"y":0.3},{"p":"B","a":39,"x":12.45,"y":0},
{"p":"B","a":45,"x":-1,"y":0.07},{"p":"B","a":45,"x":1,"y":0.145},{"p":"B","a":45,"x":2,"y":0.225},{"p":"B","a":45,"x":4,"y":0.48},{"p":"B","a":45,"x":6,"y":0.83},{"p":"B","a":45,"x":8,"y":1.22},{"p":"B","a":45,"x":9.65,"y":1.47},{"p":"B","a":45,"x":10.7,"y":1.31},{"p":"B","a":45,"x":11.7,"y":0.79},{"p":"B","a":45,"x":12.55,"y":0.29},{"p":"B","a":45,"x":13.15,"y":0},
{"p":"B","a":51,"x":-1,"y":0.053},{"p":"B","a":51,"x":1,"y":0.12},{"p":"B","a":51,"x":2,"y":0.2},{"p":"B","a":51,"x":4,"y":0.445},{"p":"B","a":51,"x":6,"y":0.78},{"p":"B","a":51,"x":8,"y":1.155},{"p":"B","a":51,"x":9.95,"y":1.455},{"p":"B","a":51,"x":11.05,"y":1.29},{"p":"B","a":51,"x":12.05,"y":0.76},{"p":"B","a":51,"x":12.95,"y":0.26},{"p":"B","a":51,"x":13.75,"y":0},
{"p":"B","a":57,"x":-1,"y":0.038},{"p":"B","a":57,"x":1,"y":0.1},{"p":"B","a":57,"x":2,"y":0.185},{"p":"B","a":57,"x":4,"y":0.43},{"p":"B","a":57,"x":6,"y":0.77},{"p":"B","a":57,"x":8,"y":1.15},{"p":"B","a":57,"x":10.2,"y":1.45},{"p":"B","a":57,"x":11.35,"y":1.27},{"p":"B","a":57,"x":12.4,"y":0.72},{"p":"B","a":57,"x":13.25,"y":0.24},{"p":"B","a":57,"x":14.1,"y":0.01},
{"p":"C","a":1,"x":-2.4,"y":0},{"p":"C","a":1,"x":-2.2,"y":0.35},{"p":"C","a":1,"x":-2,"y":0.1},{"p":"C","a":1,"x":-1.8,"y":0.3},{"p":"C","a":1,"x":-1.5,"y":0.35},{"p":"C","a":1,"x":-1.4,"y":1.45},{"p":"C","a":1,"x":-1.3,"y":0.4},{"p":"C","a":1,"x":-1,"y":0.5},{"p":"C","a":1,"x":-0.6,"y":0.6},{"p":"C","a":1,"x":-0.3,"y":0.7},{"p":"C","a":1,"x":0,"y":0.8},{"p":"C","a":1,"x":0.2,"y":0.75},{"p":"C","a":1,"x":0.5,"y":1.2},{"p":"C","a":1,"x":0.7,"y":0.9},{"p":"C","a":1,"x":1,"y":1.3},{"p":"C","a":1,"x":1.2,"y":1.0},{"p":"C","a":1,"x":1.5,"y":1.5},{"p":"C","a":1,"x":1.7,"y":1.1},{"p":"C","a":1,"x":1.9,"y":2.6},{"p":"C","a":1,"x":2.05,"y":1.6},{"p":"C","a":1,"x":2.2,"y":2.0},{"p":"C","a":1,"x":2.35,"y":3.0},{"p":"C","a":1,"x":2.5,"y":1.8},{"p":"C","a":1,"x":2.6,"y":3.45},{"p":"C","a":1,"x":2.75,"y":2.4},{"p":"C","a":1,"x":2.9,"y":3.9},{"p":"C","a":1,"x":3.05,"y":2.8},{"p":"C","a":1,"x":3.19,"y":6.57},{"p":"C","a":1,"x":3.3,"y":5.2},{"p":"C","a":1,"x":3.4,"y":6.06},{"p":"C","a":1,"x":3.5,"y":3.0},{"p":"C","a":1,"x":3.6,"y":1.5},{"p":"C","a":1,"x":3.75,"y":0.5},{"p":"C","a":1,"x":3.9,"y":0},
{"p":"C","a":2,"x":-5,"y":0.02},{"p":"C","a":2,"x":-3,"y":0.2},{"p":"C","a":2,"x":-2,"y":0.4},{"p":"C","a":2,"x":-1,"y":0.6},{"p":"C","a":2,"x":0,"y":0.88},{"p":"C","a":2,"x":1,"y":1.2},{"p":"C","a":2,"x":2,"y":1.75},{"p":"C","a":2,"x":2.6,"y":2.4},{"p":"C","a":2,"x":3,"y":3.1},{"p":"C","a":2,"x":3.3,"y":3.7},{"p":"C","a":2,"x":3.6,"y":3.94},{"p":"C","a":2,"x":3.85,"y":3.7},{"p":"C","a":2,"x":4.1,"y":2.6},{"p":"C","a":2,"x":4.3,"y":1.2},{"p":"C","a":2,"x":4.45,"y":0.3},{"p":"C","a":2,"x":4.55,"y":0},
{"p":"C","a":3,"x":-5,"y":0.02},{"p":"C","a":3,"x":-3,"y":0.19},{"p":"C","a":3,"x":-2,"y":0.38},{"p":"C","a":3,"x":-1,"y":0.57},{"p":"C","a":3,"x":0,"y":0.84},{"p":"C","a":3,"x":1,"y":1.15},{"p":"C","a":3,"x":2,"y":1.65},{"p":"C","a":3,"x":2.8,"y":2.5},{"p":"C","a":3,"x":3.36,"y":2.98},{"p":"C","a":3,"x":3.8,"y":2.7},{"p":"C","a":3,"x":4.2,"y":1.8},{"p":"C","a":3,"x":4.5,"y":0.7},{"p":"C","a":3,"x":4.7,"y":0},
{"p":"C","a":5,"x":-5,"y":0.02},{"p":"C","a":5,"x":-3,"y":0.18},{"p":"C","a":5,"x":-2,"y":0.36},{"p":"C","a":5,"x":-1,"y":0.55},{"p":"C","a":5,"x":0,"y":0.8},{"p":"C","a":5,"x":1,"y":1.1},{"p":"C","a":5,"x":2,"y":1.55},{"p":"C","a":5,"x":2.9,"y":2.15},{"p":"C","a":5,"x":3.5,"y":2.45},{"p":"C","a":5,"x":4,"y":2.3},{"p":"C","a":5,"x":4.5,"y":1.7},{"p":"C","a":5,"x":4.9,"y":0.7},{"p":"C","a":5,"x":5.1,"y":0},
{"p":"C","a":8,"x":-5,"y":0.02},{"p":"C","a":8,"x":-3,"y":0.17},{"p":"C","a":8,"x":-2,"y":0.33},{"p":"C","a":8,"x":-1,"y":0.52},{"p":"C","a":8,"x":0,"y":0.75},{"p":"C","a":8,"x":1,"y":1.03},{"p":"C","a":8,"x":2,"y":1.42},{"p":"C","a":8,"x":3,"y":1.85},{"p":"C","a":8,"x":3.9,"y":2.12},{"p":"C","a":8,"x":4.5,"y":2.0},{"p":"C","a":8,"x":5,"y":1.5},{"p":"C","a":8,"x":5.4,"y":0.6},{"p":"C","a":8,"x":5.6,"y":0},
{"p":"C","a":12,"x":-5,"y":0.02},{"p":"C","a":12,"x":-3,"y":0.16},{"p":"C","a":12,"x":-2,"y":0.3},{"p":"C","a":12,"x":-1,"y":0.48},{"p":"C","a":12,"x":0,"y":0.7},{"p":"C","a":12,"x":1,"y":0.96},{"p":"C","a":12,"x":2,"y":1.3},{"p":"C","a":12,"x":3,"y":1.68},{"p":"C","a":12,"x":4.3,"y":2.0},{"p":"C","a":12,"x":5,"y":1.85},{"p":"C","a":12,"x":5.5,"y":1.3},{"p":"C","a":12,"x":5.9,"y":0.5},{"p":"C","a":12,"x":6.1,"y":0},
{"p":"C","a":16,"x":-5,"y":0.02},{"p":"C","a":16,"x":-3,"y":0.14},{"p":"C","a":16,"x":-2,"y":0.27},{"p":"C","a":16,"x":-1,"y":0.43},{"p":"C","a":16,"x":0,"y":0.63},{"p":"C","a":16,"x":1,"y":0.88},{"p":"C","a":16,"x":2,"y":1.2},{"p":"C","a":16,"x":3,"y":1.55},{"p":"C","a":16,"x":4.7,"y":1.9},{"p":"C","a":16,"x":5.4,"y":1.75},{"p":"C","a":16,"x":6,"y":1.2},{"p":"C","a":16,"x":6.4,"y":0.45},{"p":"C","a":16,"x":6.6,"y":0},
{"p":"C","a":20,"x":-5,"y":0.02},{"p":"C","a":20,"x":-3,"y":0.13},{"p":"C","a":20,"x":-2,"y":0.24},{"p":"C","a":20,"x":-1,"y":0.39},{"p":"C","a":20,"x":0,"y":0.57},{"p":"C","a":20,"x":1,"y":0.8},{"p":"C","a":20,"x":2,"y":1.1},{"p":"C","a":20,"x":3.5,"y":1.55},{"p":"C","a":20,"x":5,"y":1.82},{"p":"C","a":20,"x":5.8,"y":1.65},{"p":"C","a":20,"x":6.4,"y":1.1},{"p":"C","a":20,"x":6.9,"y":0.4},{"p":"C","a":20,"x":7.1,"y":0},
{"p":"C","a":25,"x":-5,"y":0.02},{"p":"C","a":25,"x":-3,"y":0.12},{"p":"C","a":25,"x":-2,"y":0.21},{"p":"C","a":25,"x":-1,"y":0.35},{"p":"C","a":25,"x":0,"y":0.5},{"p":"C","a":25,"x":1,"y":0.72},{"p":"C","a":25,"x":2,"y":1.0},{"p":"C","a":25,"x":3.5,"y":1.45},{"p":"C","a":25,"x":5.4,"y":1.76},{"p":"C","a":25,"x":6.3,"y":1.58},{"p":"C","a":25,"x":7,"y":1.05},{"p":"C","a":25,"x":7.5,"y":0.4},{"p":"C","a":25,"x":7.8,"y":0},
{"p":"C","a":30,"x":-5,"y":0.02},{"p":"C","a":30,"x":-3,"y":0.1},{"p":"C","a":30,"x":-2,"y":0.19},{"p":"C","a":30,"x":-1,"y":0.31},{"p":"C","a":30,"x":0,"y":0.45},{"p":"C","a":30,"x":1,"y":0.65},{"p":"C","a":30,"x":2,"y":0.9},{"p":"C","a":30,"x":3.5,"y":1.35},{"p":"C","a":30,"x":5.8,"y":1.71},{"p":"C","a":30,"x":6.7,"y":1.55},{"p":"C","a":30,"x":7.5,"y":1.0},{"p":"C","a":30,"x":8.1,"y":0.35},{"p":"C","a":30,"x":8.4,"y":0},
{"p":"C","a":36,"x":-5,"y":0.02},{"p":"C","a":36,"x":-3,"y":0.09},{"p":"C","a":36,"x":-2,"y":0.16},{"p":"C","a":36,"x":-1,"y":0.27},{"p":"C","a":36,"x":0,"y":0.39},{"p":"C","a":36,"x":1,"y":0.57},{"p":"C","a":36,"x":2,"y":0.8},{"p":"C","a":36,"x":3.5,"y":1.22},{"p":"C","a":36,"x":6,"y":1.67},{"p":"C","a":36,"x":7,"y":1.5},{"p":"C","a":36,"x":7.9,"y":0.95},{"p":"C","a":36,"x":8.6,"y":0.35},{"p":"C","a":36,"x":9,"y":0},
{"p":"C","a":42,"x":-5,"y":0.02},{"p":"C","a":42,"x":-3,"y":0.08},{"p":"C","a":42,"x":-2,"y":0.14},{"p":"C","a":42,"x":-1,"y":0.23},{"p":"C","a":42,"x":0,"y":0.34},{"p":"C","a":42,"x":1,"y":0.5},{"p":"C","a":42,"x":2,"y":0.72},{"p":"C","a":42,"x":3.5,"y":1.1},{"p":"C","a":42,"x":5,"y":1.45},{"p":"C","a":42,"x":6.2,"y":1.64},{"p":"C","a":42,"x":7.2,"y":1.5},{"p":"C","a":42,"x":8.2,"y":0.95},{"p":"C","a":42,"x":9,"y":0.35},{"p":"C","a":42,"x":9.5,"y":0},
{"p":"C","a":48,"x":-5,"y":0.02},{"p":"C","a":48,"x":-3,"y":0.07},{"p":"C","a":48,"x":-2,"y":0.12},{"p":"C","a":48,"x":-1,"y":0.2},{"p":"C","a":48,"x":0,"y":0.3},{"p":"C","a":48,"x":1,"y":0.44},{"p":"C","a":48,"x":2,"y":0.66},{"p":"C","a":48,"x":3.5,"y":1.02},{"p":"C","a":48,"x":5,"y":1.38},{"p":"C","a":48,"x":6.3,"y":1.62},{"p":"C","a":48,"x":7.4,"y":1.45},{"p":"C","a":48,"x":8.5,"y":0.95},{"p":"C","a":48,"x":9.4,"y":0.35},{"p":"C","a":48,"x":10,"y":0},
{"p":"C","a":54,"x":-5,"y":0.02},{"p":"C","a":54,"x":-3,"y":0.06},{"p":"C","a":54,"x":-2,"y":0.1},{"p":"C","a":54,"x":-1,"y":0.17},{"p":"C","a":54,"x":0,"y":0.26},{"p":"C","a":54,"x":1,"y":0.4},{"p":"C","a":54,"x":2,"y":0.61},{"p":"C","a":54,"x":3.5,"y":0.95},{"p":"C","a":54,"x":5,"y":1.33},{"p":"C","a":54,"x":6.4,"y":1.61},{"p":"C","a":54,"x":7.5,"y":1.42},{"p":"C","a":54,"x":8.6,"y":0.97},{"p":"C","a":54,"x":9.6,"y":0.38},{"p":"C","a":54,"x":10.4,"y":0.05},
{"p":"C","a":60,"x":-5,"y":0.02},{"p":"C","a":60,"x":-3,"y":0.05},{"p":"C","a":60,"x":-2,"y":0.09},{"p":"C","a":60,"x":-1,"y":0.15},{"p":"C","a":60,"x":0,"y":0.23},{"p":"C","a":60,"x":1,"y":0.36},{"p":"C","a":60,"x":2.46,"y":0.69},{"p":"C","a":60,"x":3.5,"y":0.95},{"p":"C","a":60,"x":4.54,"y":1.25},{"p":"C","a":60,"x":5.38,"y":1.44},{"p":"C","a":60,"x":6,"y":1.56},{"p":"C","a":60,"x":6.5,"y":1.6},{"p":"C","a":60,"x":7.67,"y":1.39},{"p":"C","a":60,"x":8.71,"y":0.97},{"p":"C","a":60,"x":9.75,"y":0.42},{"p":"C","a":60,"x":10.58,"y":0.09},{"p":"C","a":60,"x":11,"y":0.03},
{"p":"C","a":10,"x":-5,"y":0.02},{"p":"C","a":10,"x":-3,"y":0.165},{"p":"C","a":10,"x":-2,"y":0.315},{"p":"C","a":10,"x":-1,"y":0.5},{"p":"C","a":10,"x":0,"y":0.72},{"p":"C","a":10,"x":1,"y":1.0},{"p":"C","a":10,"x":2,"y":1.36},{"p":"C","a":10,"x":3,"y":1.77},{"p":"C","a":10,"x":4.1,"y":2.06},{"p":"C","a":10,"x":4.75,"y":1.93},{"p":"C","a":10,"x":5.25,"y":1.4},{"p":"C","a":10,"x":5.65,"y":0.55},{"p":"C","a":10,"x":5.85,"y":0},
{"p":"C","a":14,"x":-5,"y":0.02},{"p":"C","a":14,"x":-3,"y":0.15},{"p":"C","a":14,"x":-2,"y":0.285},{"p":"C","a":14,"x":-1,"y":0.455},{"p":"C","a":14,"x":0,"y":0.665},{"p":"C","a":14,"x":1,"y":0.92},{"p":"C","a":14,"x":2,"y":1.25},{"p":"C","a":14,"x":3,"y":1.62},{"p":"C","a":14,"x":4.5,"y":1.95},{"p":"C","a":14,"x":5.2,"y":1.8},{"p":"C","a":14,"x":5.75,"y":1.25},{"p":"C","a":14,"x":6.15,"y":0.48},{"p":"C","a":14,"x":6.35,"y":0},
{"p":"C","a":18,"x":-5,"y":0.02},{"p":"C","a":18,"x":-3,"y":0.135},{"p":"C","a":18,"x":-2,"y":0.255},{"p":"C","a":18,"x":-1,"y":0.41},{"p":"C","a":18,"x":0,"y":0.6},{"p":"C","a":18,"x":1,"y":0.84},{"p":"C","a":18,"x":2,"y":1.15},{"p":"C","a":18,"x":3.5,"y":1.6},{"p":"C","a":18,"x":4.85,"y":1.86},{"p":"C","a":18,"x":5.6,"y":1.7},{"p":"C","a":18,"x":6.2,"y":1.15},{"p":"C","a":18,"x":6.65,"y":0.42},{"p":"C","a":18,"x":6.85,"y":0},
{"p":"C","a":22,"x":-5,"y":0.02},{"p":"C","a":22,"x":-3,"y":0.125},{"p":"C","a":22,"x":-2,"y":0.225},{"p":"C","a":22,"x":-1,"y":0.37},{"p":"C","a":22,"x":0,"y":0.535},{"p":"C","a":22,"x":1,"y":0.76},{"p":"C","a":22,"x":2,"y":1.05},{"p":"C","a":22,"x":3.5,"y":1.5},{"p":"C","a":22,"x":5.2,"y":1.79},{"p":"C","a":22,"x":6.05,"y":1.62},{"p":"C","a":22,"x":6.7,"y":1.08},{"p":"C","a":22,"x":7.2,"y":0.4},{"p":"C","a":22,"x":7.45,"y":0},
{"p":"C","a":27,"x":-5,"y":0.02},{"p":"C","a":27,"x":-3,"y":0.11},{"p":"C","a":27,"x":-2,"y":0.2},{"p":"C","a":27,"x":-1,"y":0.33},{"p":"C","a":27,"x":0,"y":0.475},{"p":"C","a":27,"x":1,"y":0.685},{"p":"C","a":27,"x":2,"y":0.95},{"p":"C","a":27,"x":3.5,"y":1.4},{"p":"C","a":27,"x":5.6,"y":1.74},{"p":"C","a":27,"x":6.5,"y":1.56},{"p":"C","a":27,"x":7.25,"y":1.02},{"p":"C","a":27,"x":7.8,"y":0.38},{"p":"C","a":27,"x":8.1,"y":0},
{"p":"C","a":33,"x":-5,"y":0.02},{"p":"C","a":33,"x":-3,"y":0.095},{"p":"C","a":33,"x":-2,"y":0.175},{"p":"C","a":33,"x":-1,"y":0.29},{"p":"C","a":33,"x":0,"y":0.42},{"p":"C","a":33,"x":1,"y":0.61},{"p":"C","a":33,"x":2,"y":0.85},{"p":"C","a":33,"x":3.5,"y":1.28},{"p":"C","a":33,"x":5.9,"y":1.69},{"p":"C","a":33,"x":6.85,"y":1.52},{"p":"C","a":33,"x":7.7,"y":0.98},{"p":"C","a":33,"x":8.35,"y":0.35},{"p":"C","a":33,"x":8.7,"y":0},
{"p":"C","a":39,"x":-5,"y":0.02},{"p":"C","a":39,"x":-3,"y":0.085},{"p":"C","a":39,"x":-2,"y":0.15},{"p":"C","a":39,"x":-1,"y":0.25},{"p":"C","a":39,"x":0,"y":0.365},{"p":"C","a":39,"x":1,"y":0.535},{"p":"C","a":39,"x":2,"y":0.76},{"p":"C","a":39,"x":3.5,"y":1.16},{"p":"C","a":39,"x":5,"y":1.5},{"p":"C","a":39,"x":6.1,"y":1.65},{"p":"C","a":39,"x":7.1,"y":1.5},{"p":"C","a":39,"x":8.05,"y":0.95},{"p":"C","a":39,"x":8.8,"y":0.35},{"p":"C","a":39,"x":9.25,"y":0},
{"p":"C","a":45,"x":-5,"y":0.02},{"p":"C","a":45,"x":-3,"y":0.075},{"p":"C","a":45,"x":-2,"y":0.13},{"p":"C","a":45,"x":-1,"y":0.215},{"p":"C","a":45,"x":0,"y":0.32},{"p":"C","a":45,"x":1,"y":0.47},{"p":"C","a":45,"x":2,"y":0.69},{"p":"C","a":45,"x":3.5,"y":1.06},{"p":"C","a":45,"x":5,"y":1.41},{"p":"C","a":45,"x":6.25,"y":1.63},{"p":"C","a":45,"x":7.3,"y":1.47},{"p":"C","a":45,"x":8.35,"y":0.95},{"p":"C","a":45,"x":9.2,"y":0.35},{"p":"C","a":45,"x":9.75,"y":0},
{"p":"C","a":51,"x":-5,"y":0.02},{"p":"C","a":51,"x":-3,"y":0.065},{"p":"C","a":51,"x":-2,"y":0.11},{"p":"C","a":51,"x":-1,"y":0.185},{"p":"C","a":51,"x":0,"y":0.28},{"p":"C","a":51,"x":1,"y":0.42},{"p":"C","a":51,"x":2,"y":0.635},{"p":"C","a":51,"x":3.5,"y":0.98},{"p":"C","a":51,"x":5,"y":1.35},{"p":"C","a":51,"x":6.35,"y":1.615},{"p":"C","a":51,"x":7.45,"y":1.43},{"p":"C","a":51,"x":8.55,"y":0.96},{"p":"C","a":51,"x":9.5,"y":0.36},{"p":"C","a":51,"x":10.2,"y":0.02},
{"p":"C","a":57,"x":-5,"y":0.02},{"p":"C","a":57,"x":-3,"y":0.055},{"p":"C","a":57,"x":-2,"y":0.095},{"p":"C","a":57,"x":-1,"y":0.16},{"p":"C","a":57,"x":0,"y":0.245},{"p":"C","a":57,"x":1,"y":0.38},{"p":"C","a":57,"x":2,"y":0.6},{"p":"C","a":57,"x":3.5,"y":0.95},{"p":"C","a":57,"x":5,"y":1.33},{"p":"C","a":57,"x":6.45,"y":1.605},{"p":"C","a":57,"x":7.6,"y":1.4},{"p":"C","a":57,"x":8.65,"y":0.97},{"p":"C","a":57,"x":9.7,"y":0.4},{"p":"C","a":57,"x":10.5,"y":0.07}],
"bt":[
{"p":"D","t":1,"mo":2.4,"md":1.7,"mn":1.0,"lo":1.6,"hi":3.6},{"p":"D","t":2,"mo":3.3,"md":2.4,"mn":1.6,"lo":1.5,"hi":3.9},{"p":"D","t":3,"mo":3.3,"md":2.5,"mn":1.9,"lo":1.4,"hi":4.0},{"p":"D","t":4,"mo":3.4,"md":2.3,"mn":1.7,"lo":1.3,"hi":4.1},{"p":"D","t":5,"mo":3.7,"md":2.6,"mn":2.0,"lo":1.4,"hi":4.3},{"p":"D","t":6,"mo":4.0,"md":2.8,"mn":2.2,"lo":1.5,"hi":4.5},{"p":"D","t":7,"mo":4.1,"md":2.9,"mn":2.3,"lo":1.6,"hi":4.8},{"p":"D","t":8,"mo":4.2,"md":3.0,"mn":2.4,"lo":1.7,"hi":5.1},{"p":"D","t":10,"mo":4.6,"md":3.4,"mn":2.8,"lo":2.0,"hi":5.8},{"p":"D","t":12,"mo":5.0,"md":3.7,"mn":3.1,"lo":2.2,"hi":6.3},{"p":"D","t":14,"mo":5.4,"md":4.0,"mn":3.4,"lo":2.4,"hi":6.7},{"p":"D","t":16,"mo":5.7,"md":4.3,"mn":3.8,"lo":2.6,"hi":7.1},{"p":"D","t":18,"mo":6.1,"md":4.7,"mn":4.1,"lo":2.7,"hi":7.5},{"p":"D","t":20,"mo":6.1,"md":5.0,"mn":4.4,"lo":2.9,"hi":7.9},{"p":"D","t":22,"mo":6.4,"md":5.2,"mn":4.6,"lo":3.0,"hi":8.2},{"p":"D","t":24,"mo":6.6,"md":5.4,"mn":4.8,"lo":3.1,"hi":8.5},{"p":"D","t":26,"mo":6.8,"md":5.6,"mn":5.0,"lo":3.2,"hi":8.7},{"p":"D","t":28,"mo":7.2,"md":5.8,"mn":5.2,"lo":3.3,"hi":8.9},{"p":"D","t":30,"mo":7.2,"md":5.9,"mn":5.4,"lo":3.4,"hi":9.1},{"p":"D","t":32,"mo":7.1,"md":6.0,"mn":5.45,"lo":3.5,"hi":9.2},{"p":"D","t":34,"mo":7.4,"md":6.1,"mn":5.55,"lo":3.6,"hi":9.35},{"p":"D","t":36,"mo":7.4,"md":6.15,"mn":5.6,"lo":3.65,"hi":9.45},{"p":"D","t":38,"mo":7.5,"md":6.25,"mn":5.7,"lo":3.7,"hi":9.5},{"p":"D","t":40,"mo":7.8,"md":6.3,"mn":5.75,"lo":3.8,"hi":9.6},{"p":"D","t":42,"mo":7.8,"md":6.4,"mn":5.8,"lo":3.85,"hi":9.7},{"p":"D","t":44,"mo":7.5,"md":6.45,"mn":5.82,"lo":3.85,"hi":9.75},{"p":"D","t":46,"mo":7.8,"md":6.5,"mn":5.85,"lo":3.9,"hi":9.8},{"p":"D","t":47,"mo":8.0,"md":6.5,"mn":5.86,"lo":3.95,"hi":9.85},{"p":"D","t":48,"mo":7.6,"md":6.5,"mn":5.87,"lo":3.95,"hi":9.9},{"p":"D","t":50,"mo":7.9,"md":6.5,"mn":5.9,"lo":3.95,"hi":9.95},{"p":"D","t":52,"mo":8.0,"md":6.55,"mn":5.9,"lo":4.0,"hi":10.0},{"p":"D","t":54,"mo":8.0,"md":6.6,"mn":5.95,"lo":4.0,"hi":10.0},{"p":"D","t":56,"mo":7.7,"md":6.6,"mn":5.95,"lo":3.95,"hi":10.0},{"p":"D","t":58,"mo":7.7,"md":6.6,"mn":5.95,"lo":3.95,"hi":10.0},{"p":"D","t":60,"mo":7.7,"md":6.6,"mn":5.95,"lo":3.95,"hi":10.0},{"p":"D","t":62,"mo":8.0,"md":6.6,"mn":6.0,"lo":3.9,"hi":9.9},{"p":"D","t":63,"mo":8.2,"md":6.6,"mn":6.0,"lo":3.9,"hi":10.0},{"p":"D","t":64,"mo":7.8,"md":6.6,"mn":6.0,"lo":3.95,"hi":10.0},{"p":"D","t":66,"mo":7.9,"md":6.6,"mn":5.95,"lo":3.95,"hi":10.0},{"p":"D","t":68,"mo":7.9,"md":6.6,"mn":5.95,"lo":3.9,"hi":10.0},{"p":"D","t":70,"mo":8.0,"md":6.6,"mn":6.0,"lo":3.9,"hi":9.9},{"p":"D","t":72,"mo":8.0,"md":6.6,"mn":5.95,"lo":3.9,"hi":9.95},{"p":"D","t":74,"mo":8.1,"md":6.6,"mn":5.95,"lo":3.9,"hi":10.0},{"p":"D","t":76,"mo":7.9,"md":6.55,"mn":5.9,"lo":3.85,"hi":9.9},{"p":"D","t":78,"mo":7.8,"md":6.5,"mn":5.9,"lo":3.8,"hi":9.85},{"p":"D","t":80,"mo":7.7,"md":6.45,"mn":5.85,"lo":3.75,"hi":9.9},{"p":"D","t":84,"mo":7.7,"md":6.45,"mn":5.75,"lo":3.75,"hi":9.95},{"p":"D","t":88,"mo":7.7,"md":6.45,"mn":5.75,"lo":3.75,"hi":9.9},{"p":"D","t":90,"mo":7.8,"md":6.45,"mn":5.75,"lo":3.75,"hi":9.9},{"p":"D","t":94,"mo":7.8,"md":6.45,"mn":5.75,"lo":3.75,"hi":9.9},{"p":"D","t":98,"mo":7.75,"md":6.45,"mn":5.75,"lo":3.75,"hi":9.9},{"p":"D","t":100,"mo":7.8,"md":6.45,"mn":5.75,"lo":3.75,"hi":9.9},
{"p":"E","t":1,"mo":5.0,"md":4.4,"mn":3.9,"lo":2.6,"hi":5.0},{"p":"E","t":2,"mo":5.6,"md":4.8,"mn":4.2,"lo":2.8,"hi":5.5},{"p":"E","t":3,"mo":5.4,"md":4.7,"mn":4.2,"lo":2.9,"hi":5.8},{"p":"E","t":4,"mo":5.5,"md":4.4,"mn":4.0,"lo":3.0,"hi":6.0},{"p":"E","t":5,"mo":5.8,"md":4.7,"mn":4.3,"lo":3.2,"hi":6.3},{"p":"E","t":6,"mo":6.0,"md":4.9,"mn":4.4,"lo":3.4,"hi":6.6},{"p":"E","t":7,"mo":6.2,"md":4.8,"mn":4.4,"lo":3.5,"hi":6.9},{"p":"E","t":8,"mo":6.1,"md":5.0,"mn":4.5,"lo":3.6,"hi":7.2},{"p":"E","t":10,"mo":6.7,"md":5.4,"mn":4.9,"lo":3.8,"hi":7.8},{"p":"E","t":12,"mo":6.9,"md":5.7,"mn":5.2,"lo":4.0,"hi":8.3},{"p":"E","t":14,"mo":7.4,"md":6.1,"mn":5.6,"lo":4.25,"hi":8.8},{"p":"E","t":16,"mo":7.7,"md":6.4,"mn":5.9,"lo":4.5,"hi":9.2},{"p":"E","t":18,"mo":7.9,"md":6.6,"mn":6.1,"lo":4.7,"hi":9.6},{"p":"E","t":20,"mo":8.1,"md":6.9,"mn":6.4,"lo":4.9,"hi":10.0},{"p":"E","t":22,"mo":8.3,"md":7.1,"mn":6.6,"lo":5.05,"hi":10.3},{"p":"E","t":24,"mo":8.5,"md":7.3,"mn":6.8,"lo":5.2,"hi":10.6},{"p":"E","t":26,"mo":8.8,"md":7.6,"mn":7.1,"lo":5.35,"hi":10.85},{"p":"E","t":28,"mo":9.1,"md":7.8,"mn":7.3,"lo":5.45,"hi":11.1},{"p":"E","t":30,"mo":9.2,"md":7.9,"mn":7.45,"lo":5.55,"hi":11.3},{"p":"E","t":32,"mo":9.3,"md":8.05,"mn":7.6,"lo":5.6,"hi":11.45},{"p":"E","t":34,"mo":9.5,"md":8.2,"mn":7.75,"lo":5.65,"hi":11.6},{"p":"E","t":36,"mo":9.6,"md":8.25,"mn":7.82,"lo":5.7,"hi":11.75},{"p":"E","t":38,"mo":9.7,"md":8.35,"mn":7.9,"lo":5.8,"hi":11.85},{"p":"E","t":40,"mo":9.6,"md":8.4,"mn":7.98,"lo":5.9,"hi":11.95},{"p":"E","t":42,"mo":9.8,"md":8.5,"mn":8.05,"lo":5.95,"hi":12.05},{"p":"E","t":44,"mo":10.0,"md":8.6,"mn":8.1,"lo":6.0,"hi":12.1},{"p":"E","t":45,"mo":9.6,"md":8.6,"mn":8.15,"lo":6.0,"hi":12.15},{"p":"E","t":48,"mo":10.0,"md":8.75,"mn":8.2,"lo":6.05,"hi":12.25},{"p":"E","t":50,"mo":10.1,"md":8.8,"mn":8.25,"lo":6.1,"hi":12.3},{"p":"E","t":52,"mo":10.2,"md":8.85,"mn":8.3,"lo":6.15,"hi":12.35},{"p":"E","t":54,"mo":10.1,"md":8.85,"mn":8.32,"lo":6.2,"hi":12.4},{"p":"E","t":56,"mo":10.2,"md":8.88,"mn":8.35,"lo":6.2,"hi":12.4},{"p":"E","t":58,"mo":10.0,"md":8.9,"mn":8.37,"lo":6.2,"hi":12.45},{"p":"E","t":60,"mo":10.2,"md":8.9,"mn":8.4,"lo":6.2,"hi":12.45},{"p":"E","t":62,"mo":10.3,"md":8.92,"mn":8.42,"lo":6.2,"hi":12.45},{"p":"E","t":64,"mo":10.2,"md":8.95,"mn":8.44,"lo":6.2,"hi":12.45},{"p":"E","t":66,"mo":10.2,"md":8.95,"mn":8.45,"lo":6.2,"hi":12.45},{"p":"E","t":68,"mo":10.3,"md":8.98,"mn":8.46,"lo":6.2,"hi":12.45},{"p":"E","t":70,"mo":10.3,"md":9.0,"mn":8.47,"lo":6.2,"hi":12.45},{"p":"E","t":72,"mo":10.5,"md":8.98,"mn":8.47,"lo":6.2,"hi":12.45},{"p":"E","t":74,"mo":10.1,"md":9.0,"mn":8.47,"lo":6.15,"hi":12.45},{"p":"E","t":76,"mo":10.3,"md":8.95,"mn":8.45,"lo":6.15,"hi":12.4},{"p":"E","t":78,"mo":9.9,"md":8.92,"mn":8.42,"lo":6.15,"hi":12.4},{"p":"E","t":80,"mo":9.9,"md":8.88,"mn":8.4,"lo":6.1,"hi":12.4},{"p":"E","t":82,"mo":10.1,"md":8.85,"mn":8.38,"lo":6.1,"hi":12.4},{"p":"E","t":84,"mo":10.0,"md":8.82,"mn":8.35,"lo":6.1,"hi":12.4},{"p":"E","t":86,"mo":9.9,"md":8.8,"mn":8.35,"lo":6.1,"hi":12.4},{"p":"E","t":88,"mo":9.9,"md":8.8,"mn":8.35,"lo":6.1,"hi":12.4},{"p":"E","t":90,"mo":9.9,"md":8.82,"mn":8.35,"lo":6.1,"hi":12.4},{"p":"E","t":92,"mo":10.0,"md":8.8,"mn":8.35,"lo":6.1,"hi":12.4},{"p":"E","t":94,"mo":10.0,"md":8.85,"mn":8.35,"lo":6.1,"hi":12.4},{"p":"E","t":96,"mo":10.0,"md":8.8,"mn":8.35,"lo":6.1,"hi":12.4},{"p":"E","t":97,"mo":10.2,"md":8.8,"mn":8.35,"lo":6.1,"hi":12.4},{"p":"E","t":98,"mo":9.8,"md":8.85,"mn":8.35,"lo":6.1,"hi":12.4},{"p":"E","t":100,"mo":10.0,"md":8.8,"mn":8.35,"lo":6.1,"hi":12.4},
{"p":"F","t":1,"mo":3.2,"md":2.7,"mn":2.2,"lo":2.5,"hi":3.9},{"p":"F","t":2,"mo":3.6,"md":2.8,"mn":2.4,"lo":2.0,"hi":4.2},{"p":"F","t":3,"mo":3.4,"md":2.6,"mn":2.2,"lo":1.5,"hi":4.4},{"p":"F","t":4,"mo":3.2,"md":2.4,"mn":2.0,"lo":1.2,"hi":4.5},{"p":"F","t":5,"mo":3.5,"md":2.6,"mn":2.15,"lo":1.2,"hi":4.6},{"p":"F","t":6,"mo":3.6,"md":2.7,"mn":2.2,"lo":1.1,"hi":4.8},{"p":"F","t":7,"mo":3.4,"md":2.5,"mn":2.1,"lo":0.9,"hi":4.9},{"p":"F","t":8,"mo":3.5,"md":2.6,"mn":2.2,"lo":1.0,"hi":4.9},{"p":"F","t":9,"mo":4.0,"md":2.8,"mn":2.35,"lo":0.95,"hi":5.0},{"p":"F","t":10,"mo":4.0,"md":2.9,"mn":2.45,"lo":1.0,"hi":5.2},{"p":"F","t":12,"mo":4.1,"md":3.1,"mn":2.6,"lo":1.2,"hi":5.5},{"p":"F","t":14,"mo":4.4,"md":3.4,"mn":2.9,"lo":1.35,"hi":5.8},{"p":"F","t":16,"mo":4.7,"md":3.65,"mn":3.15,"lo":1.5,"hi":6.1},{"p":"F","t":18,"mo":4.6,"md":3.85,"mn":3.35,"lo":1.6,"hi":6.4},{"p":"F","t":20,"mo":5.0,"md":4.05,"mn":3.6,"lo":1.75,"hi":6.7},{"p":"F","t":22,"mo":5.2,"md":4.2,"mn":3.8,"lo":1.85,"hi":6.95},{"p":"F","t":24,"mo":5.3,"md":4.4,"mn":3.95,"lo":1.95,"hi":7.2},{"p":"F","t":26,"mo":5.6,"md":4.55,"mn":4.15,"lo":2.1,"hi":7.4},{"p":"F","t":28,"mo":5.7,"md":4.75,"mn":4.35,"lo":2.2,"hi":7.6},{"p":"F","t":30,"mo":6.0,"md":4.9,"mn":4.5,"lo":2.35,"hi":7.8},{"p":"F","t":32,"mo":5.8,"md":5.0,"mn":4.6,"lo":2.45,"hi":7.95},{"p":"F","t":34,"mo":6.1,"md":5.1,"mn":4.7,"lo":2.55,"hi":8.05},{"p":"F","t":36,"mo":6.0,"md":5.15,"mn":4.78,"lo":2.6,"hi":8.15},{"p":"F","t":38,"mo":5.9,"md":5.2,"mn":4.85,"lo":2.65,"hi":8.25},{"p":"F","t":40,"mo":6.1,"md":5.25,"mn":4.92,"lo":2.7,"hi":8.35},{"p":"F","t":42,"mo":6.5,"md":5.35,"mn":5.0,"lo":2.75,"hi":8.4},{"p":"F","t":44,"mo":6.2,"md":5.4,"mn":5.05,"lo":2.8,"hi":8.45},{"p":"F","t":46,"mo":6.2,"md":5.45,"mn":5.1,"lo":2.85,"hi":8.5},{"p":"F","t":48,"mo":6.4,"md":5.5,"mn":5.15,"lo":2.9,"hi":8.55},{"p":"F","t":50,"mo":6.5,"md":5.55,"mn":5.2,"lo":2.9,"hi":8.6},{"p":"F","t":52,"mo":6.4,"md":5.58,"mn":5.22,"lo":2.95,"hi":8.65},{"p":"F","t":54,"mo":6.3,"md":5.6,"mn":5.25,"lo":2.95,"hi":8.7},{"p":"F","t":56,"mo":6.6,"md":5.6,"mn":5.28,"lo":3.0,"hi":8.7},{"p":"F","t":58,"mo":6.7,"md":5.62,"mn":5.3,"lo":3.0,"hi":8.75},{"p":"F","t":59,"mo":6.1,"md":5.62,"mn":5.3,"lo":3.0,"hi":8.75},{"p":"F","t":60,"mo":6.6,"md":5.65,"mn":5.32,"lo":3.0,"hi":8.75},{"p":"F","t":62,"mo":6.7,"md":5.68,"mn":5.33,"lo":3.0,"hi":8.8},{"p":"F","t":64,"mo":6.8,"md":5.7,"mn":5.35,"lo":3.0,"hi":8.8},{"p":"F","t":65,"mo":6.3,"md":5.7,"mn":5.35,"lo":3.0,"hi":8.8},{"p":"F","t":66,"mo":6.4,"md":5.7,"mn":5.36,"lo":3.0,"hi":8.8},{"p":"F","t":68,"mo":6.3,"md":5.7,"mn":5.37,"lo":3.0,"hi":8.8},{"p":"F","t":70,"mo":6.3,"md":5.7,"mn":5.37,"lo":3.0,"hi":8.8},{"p":"F","t":72,"mo":6.4,"md":5.7,"mn":5.37,"lo":2.95,"hi":8.8},{"p":"F","t":74,"mo":6.5,"md":5.7,"mn":5.36,"lo":2.95,"hi":8.8},{"p":"F","t":75,"mo":6.7,"md":5.7,"mn":5.35,"lo":2.95,"hi":8.8},{"p":"F","t":77,"mo":6.4,"md":5.65,"mn":5.32,"lo":2.9,"hi":8.75},{"p":"F","t":80,"mo":6.4,"md":5.55,"mn":5.25,"lo":2.85,"hi":8.75},{"p":"F","t":84,"mo":6.4,"md":5.5,"mn":5.2,"lo":2.8,"hi":8.75},{"p":"F","t":86,"mo":6.4,"md":5.55,"mn":5.2,"lo":2.8,"hi":8.75},{"p":"F","t":88,"mo":6.4,"md":5.5,"mn":5.2,"lo":2.8,"hi":8.75},{"p":"F","t":92,"mo":6.45,"md":5.55,"mn":5.2,"lo":2.8,"hi":8.75},{"p":"F","t":94,"mo":6.5,"md":5.55,"mn":5.2,"lo":2.8,"hi":8.75},{"p":"F","t":96,"mo":6.3,"md":5.55,"mn":5.2,"lo":2.8,"hi":8.75},{"p":"F","t":97,"mo":6.1,"md":5.55,"mn":5.2,"lo":2.8,"hi":8.75},{"p":"F","t":99,"mo":6.5,"md":5.5,"mn":5.2,"lo":2.8,"hi":8.75},{"p":"F","t":100,"mo":6.5,"md":5.45,"mn":5.2,"lo":2.8,"hi":8.75}],
"bx":[{"p":"D","k":"letter","x":-9,"y":16.22,"t":"D"},{"p":"D","k":"name","x":3.1,"y":14.1,"t":"H13"},{"p":"D","k":"legL","x":51.5,"y":12.75,"t":"Mode (Probability Maxima)"},{"p":"D","k":"legL","x":51.5,"y":11.6,"t":"Median"},{"p":"D","k":"legL","x":51.5,"y":11.0,"t":"Mean"},{"p":"D","k":"legR","x":37.8,"y":12.63,"t":"Full width at"},{"p":"D","k":"legR","x":37.8,"y":12.09,"t":"half maximum"},
{"p":"E","k":"letter","x":-8.8,"y":16.22,"t":"E"},{"p":"E","k":"name","x":3.25,"y":14.1,"t":"GH"},
{"p":"F","k":"letter","x":-7.2,"y":16.22,"t":"F"},{"p":"F","k":"name","x":3.5,"y":14.1,"t":"GHC"}]
},
"vconcat":[
{"hconcat":[
{"width":256,"height":252,
"encoding":{"x":{"field":"x","type":"quantitative","scale":{"domain":[-5,11],"nice":false,"zero":false},"title":"Power Deficit, TW","axis":{"values":[-5,0,5,10],"titlePadding":3,"labelOverlap":false}},"y":{"field":"y","type":"quantitative","scale":{"domain":[0,7],"nice":false,"zero":false},"title":"Probability Density (x10⁻⁴)","axis":{"values":[0,1,2,3,4,5,6,7],"titlePadding":12,"labelOverlap":false}}},
"layer":[
{"data":{"name":"ct"},"transform":[{"filter":"datum.p==='A'"}],"mark":{"type":"rect"},"encoding":{"x":{"field":"x","type":"quantitative"},"x2":{"field":"x2"},"y":{"field":"y0","type":"quantitative"},"y2":{"field":"y1"},"color":{"condition":[{"test":"datum.cat==='active'","value":"#f9c4c4"},{"test":"datum.cat==='flank'","value":"#ccf2c4"}],"value":"#c9c9f6"}}},
{"data":{"name":"ct"},"transform":[{"filter":"datum.p==='A'"}],"mark":{"type":"text","fontSize":9,"baseline":"middle"},"encoding":{"x":{"field":"m","type":"quantitative"},"y":{"field":"yp","type":"quantitative"},"text":{"field":"pct"},"color":{"condition":[{"test":"datum.cat==='active'","value":"#e03a3a"},{"test":"datum.cat==='flank'","value":"#3cb43c"}],"value":"#3a3ad8"}}},
{"data":{"name":"ct"},"transform":[{"filter":"datum.p==='A'"}],"mark":{"type":"text","fontSize":12,"baseline":"middle"},"encoding":{"x":{"field":"lx","type":"quantitative"},"y":{"field":"yl","type":"quantitative"},"text":{"field":"cat"},"color":{"condition":[{"test":"datum.cat==='active'","value":"#ff1a1a"},{"test":"datum.cat==='flank'","value":"#33cc33"}],"value":"#1a1aff"}}},
{"data":{"name":"ct"},"transform":[{"filter":"datum.p==='A'"}],"mark":{"type":"point","shape":"triangle-down","filled":true,"size":40,"opacity":1},"encoding":{"x":{"field":"m","type":"quantitative"},"y":{"field":"yt","type":"quantitative"},"color":{"condition":[{"test":"datum.cat==='active'","value":"#ff1a1a"},{"test":"datum.cat==='flank'","value":"#33cc33"}],"value":"#1a1aff"}}},
{"data":{"name":"vl"},"transform":[{"filter":"datum.p==='A' && datum.k==='zero'"}],"mark":{"type":"rule","strokeDash":[3,2],"color":"#999","strokeWidth":0.8},"encoding":{"x":{"field":"x","type":"quantitative"},"y":{"field":"y0","type":"quantitative"},"y2":{"field":"y"}}},
{"data":{"name":"cv"},"transform":[{"filter":"datum.p==='A'"}],"mark":{"type":"line","interpolate":"monotone","opacity":0.9},"encoding":{"x":{"field":"x","type":"quantitative"},"y":{"field":"y","type":"quantitative"},"detail":{"field":"a"},"color":{"field":"a","type":"quantitative","scale":{"domain":[0,8,16,30,45,60],"range":["#ff2a1a","#ff8c1a","#ffee00","#22dd22","#00ddff","#0022ff"]},"legend":{"type":"gradient","orient":"none","legendX":14,"legendY":55,"direction":"horizontal","title":"Lithospheric Age","titleFontSize":9,"titleFontWeight":"normal","titleAnchor":"middle","titleColor":"#222","titlePadding":3,"gradientLength":71,"gradientThickness":8,"values":[0,30,60],"labelFontSize":9,"labelColor":"#222","gradientStrokeColor":"#444","gradientStrokeWidth":0.5}},"strokeWidth":{"condition":{"test":"datum.a===60","value":2.6},"value":0.8}}},
{"data":{"name":"vl"},"transform":[{"filter":"datum.p==='A' && datum.k==='near'"}],"mark":{"type":"rule","color":"#8a8a8a","strokeWidth":2.5},"encoding":{"x":{"field":"x","type":"quantitative"},"y":{"field":"y0","type":"quantitative"},"y2":{"field":"y"}}},
{"data":{"name":"vl"},"transform":[{"filter":"datum.p==='A' && datum.k==='net'"}],"mark":{"type":"rule","color":"#8a8a8a","strokeWidth":2},"encoding":{"x":{"field":"x","type":"quantitative"},"y":{"field":"y0","type":"quantitative"},"y2":{"field":"y"}}},
{"data":{"name":"vl"},"transform":[{"filter":"datum.p==='A' && datum.k==='mean'"}],"mark":{"type":"rule","color":"#ff1a1a","strokeWidth":1.2},"encoding":{"x":{"field":"x","type":"quantitative"},"y":{"field":"y0","type":"quantitative"},"y2":{"field":"y"}}},
{"data":{"name":"vl"},"transform":[{"filter":"datum.p==='A' && datum.k==='median'"}],"mark":{"type":"rule","color":"#2a2aff","strokeWidth":1.2},"encoding":{"x":{"field":"x","type":"quantitative"},"y":{"field":"y0","type":"quantitative"},"y2":{"field":"y"}}},
{"data":{"name":"hs"},"mark":{"type":"line","color":"#ff33ff","strokeWidth":1},"encoding":{"x":{"field":"x","type":"quantitative"},"y":{"field":"y","type":"quantitative"},"order":{"field":"o"}}},
{"data":{"name":"mk"},"transform":[{"filter":"datum.p==='A'"}],"mark":{"type":"point","filled":true,"size":14,"stroke":"#222","strokeWidth":0.4,"opacity":1},"encoding":{"x":{"field":"x","type":"quantitative"},"y":{"field":"y","type":"quantitative"},"shape":{"field":"k","type":"nominal","scale":{"domain":["mode","median","mean"],"range":["circle","triangle-up","square"]},"legend":null},"fill":{"field":"a","type":"quantitative","scale":{"domain":[0,8,16,30,45,60],"range":["#ff2a1a","#ff8c1a","#ffee00","#22dd22","#00ddff","#0022ff"]},"legend":null}}},
{"data":{"name":"ld"},"transform":[{"filter":"datum.p==='A'"}],"mark":{"type":"rule","color":"#333","strokeWidth":0.6},"encoding":{"x":{"field":"x","type":"quantitative"},"y":{"field":"y","type":"quantitative"},"x2":{"field":"x2"},"y2":{"field":"y2"}}},
{"data":{"name":"eb"},"transform":[{"filter":"datum.p==='A'"}],"mark":{"type":"rule","color":"#333","strokeWidth":1},"encoding":{"x":{"field":"lo","type":"quantitative"},"x2":{"field":"hi"},"y":{"field":"y","type":"quantitative"}}},
{"data":{"name":"eb"},"transform":[{"filter":"datum.p==='A'"}],"mark":{"type":"point","shape":"M0,-1L0,1","size":40,"color":"#333","strokeWidth":1,"opacity":1},"encoding":{"x":{"field":"lo","type":"quantitative"},"y":{"field":"y","type":"quantitative"}}},
{"data":{"name":"eb"},"transform":[{"filter":"datum.p==='A'"}],"mark":{"type":"point","shape":"M0,-1L0,1","size":40,"color":"#333","strokeWidth":1,"opacity":1},"encoding":{"x":{"field":"hi","type":"quantitative"},"y":{"field":"y","type":"quantitative"}}},
{"data":{"name":"eb"},"transform":[{"filter":"datum.p==='A'"}],"mark":{"type":"point","shape":"circle","filled":true,"fill":"#fff","stroke":"#222","strokeWidth":1,"size":30,"opacity":1},"encoding":{"x":{"field":"x","type":"quantitative"},"y":{"field":"y","type":"quantitative"}}},
{"data":{"name":"tx"},"transform":[{"filter":"datum.p==='A' && (datum.k==='name'||datum.k==='valL'||datum.k==='rotL'||datum.k==='rotS')"}],"mark":{"type":"text","align":"left","baseline":"middle","color":"#000"},"encoding":{"x":{"field":"x","type":"quantitative"},"y":{"field":"y","type":"quantitative"},"text":{"field":"t"},"size":{"condition":[{"test":"datum.k==='name'","value":16},{"test":"datum.k==='rotS'","value":9}],"value":12},"angle":{"condition":{"test":"datum.k==='rotL'||datum.k==='rotS'","value":270},"value":0}}},
{"data":{"name":"tx"},"transform":[{"filter":"datum.p==='A' && (datum.k==='rot'||datum.k==='valR')"}],"mark":{"type":"text","align":"right","baseline":"middle","color":"#000","fontSize":12.5},"encoding":{"x":{"field":"x","type":"quantitative"},"y":{"field":"y","type":"quantitative"},"text":{"field":"t"},"angle":{"condition":{"test":"datum.k==='rot'","value":270},"value":0}}},
{"data":{"name":"tx"},"transform":[{"filter":"datum.p==='A' && (datum.k==='letter'||datum.k==='lab'||datum.k==='leg')"}],"mark":{"type":"text","align":"center","baseline":"middle","color":"#000"},"encoding":{"x":{"field":"x","type":"quantitative"},"y":{"field":"y","type":"quantitative"},"text":{"field":"t"},"size":{"condition":{"test":"datum.k==='letter'","value":22},"value":9}}}
]},
{"width":254,"height":252,
"encoding":{"x":{"field":"x","type":"quantitative","scale":{"domain":[-1,15],"nice":false,"zero":false},"title":"Power Deficit, TW","axis":{"values":[-1,4,9,14],"titlePadding":3,"labelOverlap":false}},"y":{"field":"y","type":"quantitative","scale":{"domain":[0,7],"nice":false,"zero":false},"title":"Probability Density (x10⁻⁴)","axis":{"values":[0,1,2,3,4,5,6,7],"titlePadding":12,"labelOverlap":false}}},
"layer":[
{"data":{"name":"ct"},"transform":[{"filter":"datum.p==='B'"}],"mark":{"type":"rect"},"encoding":{"x":{"field":"x","type":"quantitative"},"x2":{"field":"x2"},"y":{"field":"y0","type":"quantitative"},"y2":{"field":"y1"},"color":{"condition":[{"test":"datum.cat==='active'","value":"#f9c4c4"},{"test":"datum.cat==='flank'","value":"#ccf2c4"}],"value":"#c9c9f6"}}},
{"data":{"name":"ct"},"transform":[{"filter":"datum.p==='B'"}],"mark":{"type":"text","fontSize":9,"baseline":"middle"},"encoding":{"x":{"field":"m","type":"quantitative"},"y":{"field":"yp","type":"quantitative"},"text":{"field":"pct"},"color":{"condition":[{"test":"datum.cat==='active'","value":"#e03a3a"},{"test":"datum.cat==='flank'","value":"#3cb43c"}],"value":"#3a3ad8"}}},
{"data":{"name":"ct"},"transform":[{"filter":"datum.p==='B'"}],"mark":{"type":"text","fontSize":12,"baseline":"middle"},"encoding":{"x":{"field":"lx","type":"quantitative"},"y":{"field":"yl","type":"quantitative"},"text":{"field":"cat"},"color":{"condition":[{"test":"datum.cat==='active'","value":"#ff1a1a"},{"test":"datum.cat==='flank'","value":"#33cc33"}],"value":"#1a1aff"}}},
{"data":{"name":"ct"},"transform":[{"filter":"datum.p==='B'"}],"mark":{"type":"point","shape":"triangle-down","filled":true,"size":40,"opacity":1},"encoding":{"x":{"field":"m","type":"quantitative"},"y":{"field":"yt","type":"quantitative"},"color":{"condition":[{"test":"datum.cat==='active'","value":"#ff1a1a"},{"test":"datum.cat==='flank'","value":"#33cc33"}],"value":"#1a1aff"}}},
{"data":{"name":"vl"},"transform":[{"filter":"datum.p==='B' && datum.k==='zero'"}],"mark":{"type":"rule","strokeDash":[3,2],"color":"#999","strokeWidth":0.8},"encoding":{"x":{"field":"x","type":"quantitative"},"y":{"field":"y0","type":"quantitative"},"y2":{"field":"y"}}},
{"data":{"name":"cv"},"transform":[{"filter":"datum.p==='B'"}],"mark":{"type":"line","interpolate":"monotone","opacity":0.9},"encoding":{"x":{"field":"x","type":"quantitative"},"y":{"field":"y","type":"quantitative"},"detail":{"field":"a"},"color":{"field":"a","type":"quantitative","scale":{"domain":[0,8,16,30,45,60],"range":["#ff2a1a","#ff8c1a","#ffee00","#22dd22","#00ddff","#0022ff"]},"legend":null},"strokeWidth":{"condition":{"test":"datum.a===60","value":2.6},"value":0.8}}},
{"data":{"name":"vl"},"transform":[{"filter":"datum.p==='B' && datum.k==='near'"}],"mark":{"type":"rule","color":"#111","strokeWidth":1.3},"encoding":{"x":{"field":"x","type":"quantitative"},"y":{"field":"y0","type":"quantitative"},"y2":{"field":"y"}}},
{"data":{"name":"vl"},"transform":[{"filter":"datum.p==='B' && datum.k==='net'"}],"mark":{"type":"rule","color":"#8a8a8a","strokeWidth":2},"encoding":{"x":{"field":"x","type":"quantitative"},"y":{"field":"y0","type":"quantitative"},"y2":{"field":"y"}}},
{"data":{"name":"vl"},"transform":[{"filter":"datum.p==='B' && datum.k==='mean'"}],"mark":{"type":"rule","color":"#ff1a1a","strokeWidth":1.2},"encoding":{"x":{"field":"x","type":"quantitative"},"y":{"field":"y0","type":"quantitative"},"y2":{"field":"y"}}},
{"data":{"name":"vl"},"transform":[{"filter":"datum.p==='B' && datum.k==='median'"}],"mark":{"type":"rule","color":"#2a2aff","strokeWidth":1.2},"encoding":{"x":{"field":"x","type":"quantitative"},"y":{"field":"y0","type":"quantitative"},"y2":{"field":"y"}}},
{"data":{"name":"mk"},"transform":[{"filter":"datum.p==='B'"}],"mark":{"type":"point","filled":true,"size":14,"stroke":"#222","strokeWidth":0.4,"opacity":1},"encoding":{"x":{"field":"x","type":"quantitative"},"y":{"field":"y","type":"quantitative"},"shape":{"field":"k","type":"nominal","scale":{"domain":["mode","median","mean"],"range":["circle","triangle-up","square"]},"legend":null},"fill":{"field":"a","type":"quantitative","scale":{"domain":[0,8,16,30,45,60],"range":["#ff2a1a","#ff8c1a","#ffee00","#22dd22","#00ddff","#0022ff"]},"legend":null}}},
{"data":{"name":"ld"},"transform":[{"filter":"datum.p==='B'"}],"mark":{"type":"rule","color":"#333","strokeWidth":0.6},"encoding":{"x":{"field":"x","type":"quantitative"},"y":{"field":"y","type":"quantitative"},"x2":{"field":"x2"},"y2":{"field":"y2"}}},
{"data":{"name":"eb"},"transform":[{"filter":"datum.p==='B'"}],"mark":{"type":"rule","color":"#333","strokeWidth":1},"encoding":{"x":{"field":"lo","type":"quantitative"},"x2":{"field":"hi"},"y":{"field":"y","type":"quantitative"}}},
{"data":{"name":"eb"},"transform":[{"filter":"datum.p==='B'"}],"mark":{"type":"point","shape":"M0,-1L0,1","size":40,"color":"#333","strokeWidth":1,"opacity":1},"encoding":{"x":{"field":"lo","type":"quantitative"},"y":{"field":"y","type":"quantitative"}}},
{"data":{"name":"eb"},"transform":[{"filter":"datum.p==='B'"}],"mark":{"type":"point","shape":"M0,-1L0,1","size":40,"color":"#333","strokeWidth":1,"opacity":1},"encoding":{"x":{"field":"hi","type":"quantitative"},"y":{"field":"y","type":"quantitative"}}},
{"data":{"name":"eb"},"transform":[{"filter":"datum.p==='B'"}],"mark":{"type":"point","shape":"circle","filled":true,"fill":"#fff","stroke":"#222","strokeWidth":1,"size":30,"opacity":1},"encoding":{"x":{"field":"x","type":"quantitative"},"y":{"field":"y","type":"quantitative"}}},
{"data":{"name":"tx"},"transform":[{"filter":"datum.p==='B' && (datum.k==='name'||datum.k==='valL')"}],"mark":{"type":"text","align":"left","baseline":"middle","color":"#000"},"encoding":{"x":{"field":"x","type":"quantitative"},"y":{"field":"y","type":"quantitative"},"text":{"field":"t"},"size":{"condition":{"test":"datum.k==='name'","value":16},"value":12}}},
{"data":{"name":"tx"},"transform":[{"filter":"datum.p==='B' && datum.k==='rot'"}],"mark":{"type":"text","align":"right","baseline":"middle","color":"#000","fontSize":12.5,"angle":270},"encoding":{"x":{"field":"x","type":"quantitative"},"y":{"field":"y","type":"quantitative"},"text":{"field":"t"}}},
{"data":{"name":"tx"},"transform":[{"filter":"datum.p==='B' && (datum.k==='letter'||datum.k==='lab')"}],"mark":{"type":"text","align":"center","baseline":"middle","color":"#000"},"encoding":{"x":{"field":"x","type":"quantitative"},"y":{"field":"y","type":"quantitative"},"text":{"field":"t"},"size":{"condition":{"test":"datum.k==='letter'","value":22},"value":9}}}
]},
{"width":254,"height":252,
"encoding":{"x":{"field":"x","type":"quantitative","scale":{"domain":[-5,11],"nice":false,"zero":false},"title":"Power Deficit, TW","axis":{"values":[-5,0,5,10],"titlePadding":3,"labelOverlap":false}},"y":{"field":"y","type":"quantitative","scale":{"domain":[0,7],"nice":false,"zero":false},"title":"Probability Density (x10⁻⁴)","axis":{"values":[0,1,2,3,4,5,6,7],"titlePadding":12,"labelOverlap":false}}},
"layer":[
{"data":{"name":"ct"},"transform":[{"filter":"datum.p==='C'"}],"mark":{"type":"rect"},"encoding":{"x":{"field":"x","type":"quantitative"},"x2":{"field":"x2"},"y":{"field":"y0","type":"quantitative"},"y2":{"field":"y1"},"color":{"condition":[{"test":"datum.cat==='active'","value":"#f9c4c4"},{"test":"datum.cat==='flank'","value":"#ccf2c4"}],"value":"#c9c9f6"}}},
{"data":{"name":"ct"},"transform":[{"filter":"datum.p==='C'"}],"mark":{"type":"text","fontSize":9,"baseline":"middle"},"encoding":{"x":{"field":"m","type":"quantitative"},"y":{"field":"yp","type":"quantitative"},"text":{"field":"pct"},"color":{"condition":[{"test":"datum.cat==='active'","value":"#e03a3a"},{"test":"datum.cat==='flank'","value":"#3cb43c"}],"value":"#3a3ad8"}}},
{"data":{"name":"ct"},"transform":[{"filter":"datum.p==='C'"}],"mark":{"type":"text","fontSize":12,"baseline":"middle"},"encoding":{"x":{"field":"lx","type":"quantitative"},"y":{"field":"yl","type":"quantitative"},"text":{"field":"cat"},"color":{"condition":[{"test":"datum.cat==='active'","value":"#ff1a1a"},{"test":"datum.cat==='flank'","value":"#33cc33"}],"value":"#1a1aff"}}},
{"data":{"name":"ct"},"transform":[{"filter":"datum.p==='C'"}],"mark":{"type":"point","shape":"triangle-down","filled":true,"size":40,"opacity":1},"encoding":{"x":{"field":"m","type":"quantitative"},"y":{"field":"yt","type":"quantitative"},"color":{"condition":[{"test":"datum.cat==='active'","value":"#ff1a1a"},{"test":"datum.cat==='flank'","value":"#33cc33"}],"value":"#1a1aff"}}},
{"data":{"name":"vl"},"transform":[{"filter":"datum.p==='C' && datum.k==='zero'"}],"mark":{"type":"rule","strokeDash":[3,2],"color":"#999","strokeWidth":0.8},"encoding":{"x":{"field":"x","type":"quantitative"},"y":{"field":"y0","type":"quantitative"},"y2":{"field":"y"}}},
{"data":{"name":"cv"},"transform":[{"filter":"datum.p==='C'"}],"mark":{"type":"line","interpolate":"monotone","opacity":0.9},"encoding":{"x":{"field":"x","type":"quantitative"},"y":{"field":"y","type":"quantitative"},"detail":{"field":"a"},"color":{"field":"a","type":"quantitative","scale":{"domain":[0,8,16,30,45,60],"range":["#ff2a1a","#ff8c1a","#ffee00","#22dd22","#00ddff","#0022ff"]},"legend":null},"strokeWidth":{"condition":{"test":"datum.a===60","value":2.6},"value":0.8}}},
{"data":{"name":"vl"},"transform":[{"filter":"datum.p==='C' && datum.k==='near'"}],"mark":{"type":"rule","color":"#111","strokeWidth":1.3},"encoding":{"x":{"field":"x","type":"quantitative"},"y":{"field":"y0","type":"quantitative"},"y2":{"field":"y"}}},
{"data":{"name":"vl"},"transform":[{"filter":"datum.p==='C' && datum.k==='net'"}],"mark":{"type":"rule","color":"#444","strokeWidth":1.3},"encoding":{"x":{"field":"x","type":"quantitative"},"y":{"field":"y0","type":"quantitative"},"y2":{"field":"y"}}},
{"data":{"name":"vl"},"transform":[{"filter":"datum.p==='C' && datum.k==='mean'"}],"mark":{"type":"rule","color":"#ff1a1a","strokeWidth":1.2},"encoding":{"x":{"field":"x","type":"quantitative"},"y":{"field":"y0","type":"quantitative"},"y2":{"field":"y"}}},
{"data":{"name":"vl"},"transform":[{"filter":"datum.p==='C' && datum.k==='median'"}],"mark":{"type":"rule","color":"#2a2aff","strokeWidth":1.2},"encoding":{"x":{"field":"x","type":"quantitative"},"y":{"field":"y0","type":"quantitative"},"y2":{"field":"y"}}},
{"data":{"name":"mk"},"transform":[{"filter":"datum.p==='C'"}],"mark":{"type":"point","filled":true,"size":14,"stroke":"#222","strokeWidth":0.4,"opacity":1},"encoding":{"x":{"field":"x","type":"quantitative"},"y":{"field":"y","type":"quantitative"},"shape":{"field":"k","type":"nominal","scale":{"domain":["mode","median","mean"],"range":["circle","triangle-up","square"]},"legend":null},"fill":{"field":"a","type":"quantitative","scale":{"domain":[0,8,16,30,45,60],"range":["#ff2a1a","#ff8c1a","#ffee00","#22dd22","#00ddff","#0022ff"]},"legend":null}}},
{"data":{"name":"ld"},"transform":[{"filter":"datum.p==='C'"}],"mark":{"type":"rule","color":"#333","strokeWidth":0.6},"encoding":{"x":{"field":"x","type":"quantitative"},"y":{"field":"y","type":"quantitative"},"x2":{"field":"x2"},"y2":{"field":"y2"}}},
{"data":{"name":"eb"},"transform":[{"filter":"datum.p==='C'"}],"mark":{"type":"rule","color":"#555","strokeWidth":1},"encoding":{"x":{"field":"lo","type":"quantitative"},"x2":{"field":"hi"},"y":{"field":"y","type":"quantitative"}}},
{"data":{"name":"eb"},"transform":[{"filter":"datum.p==='C'"}],"mark":{"type":"point","shape":"M0,-1L0,1","size":40,"color":"#333","strokeWidth":1,"opacity":1},"encoding":{"x":{"field":"lo","type":"quantitative"},"y":{"field":"y","type":"quantitative"}}},
{"data":{"name":"eb"},"transform":[{"filter":"datum.p==='C'"}],"mark":{"type":"point","shape":"M0,-1L0,1","size":40,"color":"#333","strokeWidth":1,"opacity":1},"encoding":{"x":{"field":"hi","type":"quantitative"},"y":{"field":"y","type":"quantitative"}}},
{"data":{"name":"eb"},"transform":[{"filter":"datum.p==='C'"}],"mark":{"type":"point","shape":"circle","filled":true,"fill":"#fff","stroke":"#222","strokeWidth":1,"size":30,"opacity":1},"encoding":{"x":{"field":"x","type":"quantitative"},"y":{"field":"y","type":"quantitative"}}},
{"data":{"name":"tx"},"transform":[{"filter":"datum.p==='C' && (datum.k==='name'||datum.k==='valL')"}],"mark":{"type":"text","align":"left","baseline":"middle","color":"#000"},"encoding":{"x":{"field":"x","type":"quantitative"},"y":{"field":"y","type":"quantitative"},"text":{"field":"t"},"size":{"condition":{"test":"datum.k==='name'","value":16},"value":12}}},
{"data":{"name":"tx"},"transform":[{"filter":"datum.p==='C' && datum.k==='rot'"}],"mark":{"type":"text","align":"right","baseline":"middle","color":"#000","fontSize":12.5,"angle":270},"encoding":{"x":{"field":"x","type":"quantitative"},"y":{"field":"y","type":"quantitative"},"text":{"field":"t"}}},
{"data":{"name":"tx"},"transform":[{"filter":"datum.p==='C' && (datum.k==='letter'||datum.k==='lab')"}],"mark":{"type":"text","align":"center","baseline":"middle","color":"#000"},"encoding":{"x":{"field":"x","type":"quantitative"},"y":{"field":"y","type":"quantitative"},"text":{"field":"t"},"size":{"condition":{"test":"datum.k==='letter'","value":22},"value":9}}}
]}
],"spacing":47,"bounds":"flush","resolve":{"scale":{"color":"independent"}}},
{"hconcat":[
{"width":256,"height":253,
"encoding":{"x":{"field":"t","type":"quantitative","scale":{"domain":[0,100],"nice":false},"title":"Age, Ma","axis":{"values":[0,5,10,15,20,25,30,35,40,45,50,55,60,65,70,75,80,85,90,95,100],"labelExpr":"datum.value % 25 === 0 ? datum.label : ''","titlePadding":3,"labelOverlap":false}},"y":{"field":"mo","type":"quantitative","scale":{"domain":[0,15],"nice":false},"title":"Power Deficit, TW","axis":{"values":[0,1,2,3,4,5,6,7,8,9,10,11,12,13,14,15],"labelExpr":"datum.value % 5 === 0 ? datum.label : ''","titlePadding":12,"labelOverlap":false}}},
"layer":[
{"data":{"name":"bt"},"transform":[{"filter":"datum.p==='D'"}],"mark":{"type":"area","color":"#cccccc","opacity":1},"encoding":{"x":{"field":"t","type":"quantitative"},"y":{"field":"lo","type":"quantitative"},"y2":{"field":"hi"}}},
{"data":{"name":"bt"},"transform":[{"filter":"datum.p==='D'"}],"mark":{"type":"line","color":"#ee2222","strokeWidth":1.2},"encoding":{"x":{"field":"t","type":"quantitative"},"y":{"field":"mn","type":"quantitative"}}},
{"data":{"name":"bt"},"transform":[{"filter":"datum.p==='D'"}],"mark":{"type":"line","color":"#2233ee","strokeWidth":1.2},"encoding":{"x":{"field":"t","type":"quantitative"},"y":{"field":"md","type":"quantitative"}}},
{"data":{"name":"bt"},"transform":[{"filter":"datum.p==='D'"}],"mark":{"type":"line","color":"#111","strokeWidth":1.2},"encoding":{"x":{"field":"t","type":"quantitative"},"y":{"field":"mo","type":"quantitative"}}},
{"data":{"name":"lg"},"transform":[{"filter":"datum.k==='band'"}],"mark":{"type":"rect","color":"#c8c8c8"},"encoding":{"x":{"field":"x","type":"quantitative"},"x2":{"field":"x2"},"y":{"field":"y","type":"quantitative"},"y2":{"field":"y2"}}},
{"data":{"name":"lg"},"transform":[{"filter":"datum.k==='mode'"}],"mark":{"type":"rule","color":"#111","strokeWidth":1.2},"encoding":{"x":{"field":"x","type":"quantitative"},"x2":{"field":"x2"},"y":{"field":"y","type":"quantitative"}}},
{"data":{"name":"lg"},"transform":[{"filter":"datum.k==='median'"}],"mark":{"type":"rule","color":"#2233ee","strokeWidth":1.2},"encoding":{"x":{"field":"x","type":"quantitative"},"x2":{"field":"x2"},"y":{"field":"y","type":"quantitative"}}},
{"data":{"name":"lg"},"transform":[{"filter":"datum.k==='mean'"}],"mark":{"type":"rule","color":"#ee2222","strokeWidth":1.2},"encoding":{"x":{"field":"x","type":"quantitative"},"x2":{"field":"x2"},"y":{"field":"y","type":"quantitative"}}},
{"data":{"name":"lg"},"transform":[{"filter":"datum.k==='arrow'"}],"mark":{"type":"rule","color":"#666","strokeWidth":0.8},"encoding":{"x":{"field":"x","type":"quantitative"},"x2":{"field":"x2"},"y":{"field":"y","type":"quantitative"}}},
{"data":{"name":"lg"},"transform":[{"filter":"datum.k==='head'"}],"mark":{"type":"point","shape":"triangle-right","filled":true,"color":"#666","size":14,"opacity":1},"encoding":{"x":{"field":"x","type":"quantitative"},"y":{"field":"y","type":"quantitative"}}},
{"data":{"name":"bx"},"transform":[{"filter":"datum.p==='D' && (datum.k==='name'||datum.k==='legL')"}],"mark":{"type":"text","align":"left","baseline":"middle","color":"#000"},"encoding":{"x":{"field":"x","type":"quantitative"},"y":{"field":"y","type":"quantitative"},"text":{"field":"t"},"size":{"condition":{"test":"datum.k==='name'","value":16},"value":9}}},
{"data":{"name":"bx"},"transform":[{"filter":"datum.p==='D' && datum.k==='legR'"}],"mark":{"type":"text","align":"right","baseline":"middle","color":"#000","fontSize":9},"encoding":{"x":{"field":"x","type":"quantitative"},"y":{"field":"y","type":"quantitative"},"text":{"field":"t"}}},
{"data":{"name":"bx"},"transform":[{"filter":"datum.p==='D' && datum.k==='letter'"}],"mark":{"type":"text","align":"center","baseline":"middle","color":"#000","fontSize":22},"encoding":{"x":{"field":"x","type":"quantitative"},"y":{"field":"y","type":"quantitative"},"text":{"field":"t"}}}
]},
{"width":246,"height":253,
"encoding":{"x":{"field":"t","type":"quantitative","scale":{"domain":[0,100],"nice":false},"title":"Age, Ma","axis":{"values":[0,5,10,15,20,25,30,35,40,45,50,55,60,65,70,75,80,85,90,95,100],"labelExpr":"datum.value % 25 === 0 ? datum.label : ''","titlePadding":3,"labelOverlap":false}},"y":{"field":"mo","type":"quantitative","scale":{"domain":[0,15],"nice":false},"title":"Power Deficit, TW","axis":{"values":[0,1,2,3,4,5,6,7,8,9,10,11,12,13,14,15],"labelExpr":"datum.value % 5 === 0 ? datum.label : ''","titlePadding":12,"labelOverlap":false}}},
"layer":[
{"data":{"name":"bt"},"transform":[{"filter":"datum.p==='E'"}],"mark":{"type":"area","color":"#cccccc","opacity":1},"encoding":{"x":{"field":"t","type":"quantitative"},"y":{"field":"lo","type":"quantitative"},"y2":{"field":"hi"}}},
{"data":{"name":"bt"},"transform":[{"filter":"datum.p==='E'"}],"mark":{"type":"line","color":"#ee2222","strokeWidth":1.2},"encoding":{"x":{"field":"t","type":"quantitative"},"y":{"field":"mn","type":"quantitative"}}},
{"data":{"name":"bt"},"transform":[{"filter":"datum.p==='E'"}],"mark":{"type":"line","color":"#2233ee","strokeWidth":1.2},"encoding":{"x":{"field":"t","type":"quantitative"},"y":{"field":"md","type":"quantitative"}}},
{"data":{"name":"bt"},"transform":[{"filter":"datum.p==='E'"}],"mark":{"type":"line","color":"#111","strokeWidth":1.2},"encoding":{"x":{"field":"t","type":"quantitative"},"y":{"field":"mo","type":"quantitative"}}},
{"data":{"name":"bx"},"transform":[{"filter":"datum.p==='E' && datum.k==='name'"}],"mark":{"type":"text","align":"left","baseline":"middle","color":"#000","fontSize":16},"encoding":{"x":{"field":"x","type":"quantitative"},"y":{"field":"y","type":"quantitative"},"text":{"field":"t"}}},
{"data":{"name":"bx"},"transform":[{"filter":"datum.p==='E' && datum.k==='letter'"}],"mark":{"type":"text","align":"center","baseline":"middle","color":"#000","fontSize":22},"encoding":{"x":{"field":"x","type":"quantitative"},"y":{"field":"y","type":"quantitative"},"text":{"field":"t"}}}
]},
{"width":246,"height":253,
"encoding":{"x":{"field":"t","type":"quantitative","scale":{"domain":[0,100],"nice":false},"title":"Age, Ma","axis":{"values":[0,5,10,15,20,25,30,35,40,45,50,55,60,65,70,75,80,85,90,95,100],"labelExpr":"datum.value % 25 === 0 ? datum.label : ''","titlePadding":3,"labelOverlap":false}},"y":{"field":"mo","type":"quantitative","scale":{"domain":[0,15],"nice":false},"title":"Power Deficit, TW","axis":{"values":[0,1,2,3,4,5,6,7,8,9,10,11,12,13,14,15],"labelExpr":"datum.value % 5 === 0 ? datum.label : ''","titlePadding":12,"labelOverlap":false}}},
"layer":[
{"data":{"name":"bt"},"transform":[{"filter":"datum.p==='F'"}],"mark":{"type":"area","color":"#cccccc","opacity":1},"encoding":{"x":{"field":"t","type":"quantitative"},"y":{"field":"lo","type":"quantitative"},"y2":{"field":"hi"}}},
{"data":{"name":"bt"},"transform":[{"filter":"datum.p==='F'"}],"mark":{"type":"line","color":"#ee2222","strokeWidth":1.2},"encoding":{"x":{"field":"t","type":"quantitative"},"y":{"field":"mn","type":"quantitative"}}},
{"data":{"name":"bt"},"transform":[{"filter":"datum.p==='F'"}],"mark":{"type":"line","color":"#2233ee","strokeWidth":1.2},"encoding":{"x":{"field":"t","type":"quantitative"},"y":{"field":"md","type":"quantitative"}}},
{"data":{"name":"bt"},"transform":[{"filter":"datum.p==='F'"}],"mark":{"type":"line","color":"#111","strokeWidth":1.2},"encoding":{"x":{"field":"t","type":"quantitative"},"y":{"field":"mo","type":"quantitative"}}},
{"data":{"name":"bx"},"transform":[{"filter":"datum.p==='F' && datum.k==='name'"}],"mark":{"type":"text","align":"left","baseline":"middle","color":"#000","fontSize":16},"encoding":{"x":{"field":"x","type":"quantitative"},"y":{"field":"y","type":"quantitative"},"text":{"field":"t"}}},
{"data":{"name":"bx"},"transform":[{"filter":"datum.p==='F' && datum.k==='letter'"}],"mark":{"type":"text","align":"center","baseline":"middle","color":"#000","fontSize":22},"encoding":{"x":{"field":"x","type":"quantitative"},"y":{"field":"y","type":"quantitative"},"text":{"field":"t"}}}
]}
],"spacing":55,"bounds":"flush"}
]
}
